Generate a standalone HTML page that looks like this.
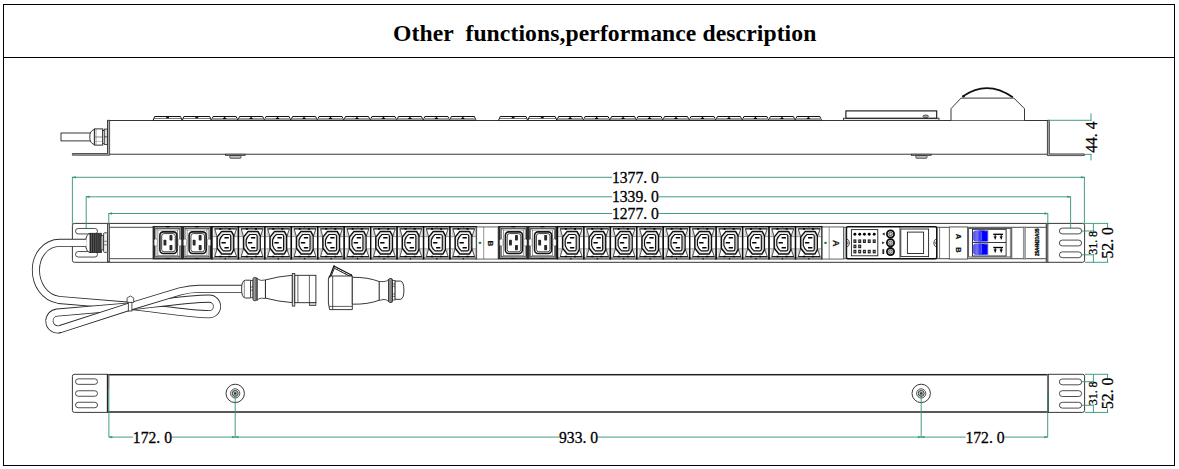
<!DOCTYPE html>
<html><head><meta charset="utf-8"><title>Other functions, performance description</title>
<style>
html,body{margin:0;padding:0;background:#fff;}
body{width:1179px;height:469px;overflow:hidden;position:relative;}
svg{position:absolute;left:0;top:0;}
.title{position:absolute;left:393px;top:19.4px;font:bold 23.65px "Liberation Serif",serif;letter-spacing:0.09px;color:#000;white-space:pre;line-height:28px;}
.d{font-family:"Liberation Serif",serif;fill:#000;stroke:#000;stroke-width:0.3px;white-space:pre;}
.s{font-family:"Liberation Sans",sans-serif;font-weight:bold;fill:#111;stroke:#111;stroke-width:0.25px;}
</style></head><body>
<svg width="1179" height="469" viewBox="0 0 1179 469">

<rect x="3.50" y="4.50" width="1171.00" height="461.00" fill="none" stroke="#000" stroke-width="1" rx="0" />
<line x1="3" y1="57.5" x2="1175" y2="57.5" stroke="#000" stroke-width="1.2" />
<path d="M153.0,120.5 L154.7,116.5 L180.5,116.5 L182.2,120.5 Z" fill="#fff" stroke="#111" stroke-width="1.0" />
<line x1="153.9" y1="118.5" x2="181.29999999999998" y2="118.5" stroke="#444" stroke-width="0.7" />
<rect x="166.20" y="117.00" width="2.80" height="1.30" fill="#111" stroke="#222" stroke-width="0" rx="0" />
<line x1="153.0" y1="120.5" x2="182.2" y2="120.5" stroke="#111" stroke-width="1.0" />
<path d="M182.2,120.5 L183.89999999999998,116.5 L209.70000000000002,116.5 L211.4,120.5 Z" fill="#fff" stroke="#111" stroke-width="1.0" />
<line x1="183.1" y1="118.5" x2="210.5" y2="118.5" stroke="#444" stroke-width="0.7" />
<rect x="195.40" y="117.00" width="2.80" height="1.30" fill="#111" stroke="#222" stroke-width="0" rx="0" />
<line x1="182.2" y1="120.5" x2="211.4" y2="120.5" stroke="#111" stroke-width="1.0" />
<path d="M211.4,120.5 L213.1,116.5 L236.17000000000002,116.5 L237.87,120.5 Z" fill="#fff" stroke="#111" stroke-width="1.0" />
<path d="M211.9,120.5 L212.5,118.0 L236.77,118.0 L237.37,120.5 Z" fill="#9a9a9a" stroke="#222" stroke-width="0" />
<path d="M222.635,119 L224.635,116.7 L226.635,119 Z" fill="#000" stroke="#222" stroke-width="0" />
<line x1="211.4" y1="120.5" x2="237.87" y2="120.5" stroke="#111" stroke-width="1.0" />
<path d="M237.87,120.5 L239.57,116.5 L262.64000000000004,116.5 L264.34000000000003,120.5 Z" fill="#fff" stroke="#111" stroke-width="1.0" />
<path d="M238.37,120.5 L238.97,118.0 L263.24,118.0 L263.84000000000003,120.5 Z" fill="#9a9a9a" stroke="#222" stroke-width="0" />
<path d="M249.10500000000002,119 L251.10500000000002,116.7 L253.10500000000002,119 Z" fill="#000" stroke="#222" stroke-width="0" />
<line x1="237.87" y1="120.5" x2="264.34000000000003" y2="120.5" stroke="#111" stroke-width="1.0" />
<path d="M264.34000000000003,120.5 L266.04,116.5 L289.11,116.5 L290.81,120.5 Z" fill="#fff" stroke="#111" stroke-width="1.0" />
<path d="M264.84000000000003,120.5 L265.44000000000005,118.0 L289.71,118.0 L290.31,120.5 Z" fill="#9a9a9a" stroke="#222" stroke-width="0" />
<path d="M275.57500000000005,119 L277.57500000000005,116.7 L279.57500000000005,119 Z" fill="#000" stroke="#222" stroke-width="0" />
<line x1="264.34000000000003" y1="120.5" x2="290.81" y2="120.5" stroke="#111" stroke-width="1.0" />
<path d="M290.81,120.5 L292.51,116.5 L315.58,116.5 L317.28,120.5 Z" fill="#fff" stroke="#111" stroke-width="1.0" />
<path d="M291.31,120.5 L291.91,118.0 L316.17999999999995,118.0 L316.78,120.5 Z" fill="#9a9a9a" stroke="#222" stroke-width="0" />
<path d="M302.04499999999996,119 L304.04499999999996,116.7 L306.04499999999996,119 Z" fill="#000" stroke="#222" stroke-width="0" />
<line x1="290.81" y1="120.5" x2="317.28" y2="120.5" stroke="#111" stroke-width="1.0" />
<path d="M317.28,120.5 L318.97999999999996,116.5 L342.05,116.5 L343.75,120.5 Z" fill="#fff" stroke="#111" stroke-width="1.0" />
<path d="M317.78,120.5 L318.38,118.0 L342.65,118.0 L343.25,120.5 Z" fill="#9a9a9a" stroke="#222" stroke-width="0" />
<path d="M328.515,119 L330.515,116.7 L332.515,119 Z" fill="#000" stroke="#222" stroke-width="0" />
<line x1="317.28" y1="120.5" x2="343.75" y2="120.5" stroke="#111" stroke-width="1.0" />
<path d="M343.75,120.5 L345.45,116.5 L368.52000000000004,116.5 L370.22,120.5 Z" fill="#fff" stroke="#111" stroke-width="1.0" />
<path d="M344.25,120.5 L344.85,118.0 L369.12,118.0 L369.72,120.5 Z" fill="#9a9a9a" stroke="#222" stroke-width="0" />
<path d="M354.985,119 L356.985,116.7 L358.985,119 Z" fill="#000" stroke="#222" stroke-width="0" />
<line x1="343.75" y1="120.5" x2="370.22" y2="120.5" stroke="#111" stroke-width="1.0" />
<path d="M370.22,120.5 L371.92,116.5 L394.99,116.5 L396.69,120.5 Z" fill="#fff" stroke="#111" stroke-width="1.0" />
<path d="M370.72,120.5 L371.32000000000005,118.0 L395.59,118.0 L396.19,120.5 Z" fill="#9a9a9a" stroke="#222" stroke-width="0" />
<path d="M381.45500000000004,119 L383.45500000000004,116.7 L385.45500000000004,119 Z" fill="#000" stroke="#222" stroke-width="0" />
<line x1="370.22" y1="120.5" x2="396.69" y2="120.5" stroke="#111" stroke-width="1.0" />
<path d="M396.69,120.5 L398.39,116.5 L421.46,116.5 L423.15999999999997,120.5 Z" fill="#fff" stroke="#111" stroke-width="1.0" />
<path d="M397.19,120.5 L397.79,118.0 L422.05999999999995,118.0 L422.65999999999997,120.5 Z" fill="#9a9a9a" stroke="#222" stroke-width="0" />
<path d="M407.92499999999995,119 L409.92499999999995,116.7 L411.92499999999995,119 Z" fill="#000" stroke="#222" stroke-width="0" />
<line x1="396.69" y1="120.5" x2="423.15999999999997" y2="120.5" stroke="#111" stroke-width="1.0" />
<path d="M423.15999999999997,120.5 L424.85999999999996,116.5 L447.93,116.5 L449.63,120.5 Z" fill="#fff" stroke="#111" stroke-width="1.0" />
<path d="M423.65999999999997,120.5 L424.26,118.0 L448.53,118.0 L449.13,120.5 Z" fill="#9a9a9a" stroke="#222" stroke-width="0" />
<path d="M434.395,119 L436.395,116.7 L438.395,119 Z" fill="#000" stroke="#222" stroke-width="0" />
<line x1="423.15999999999997" y1="120.5" x2="449.63" y2="120.5" stroke="#111" stroke-width="1.0" />
<path d="M449.63,120.5 L451.33,116.5 L474.40000000000003,116.5 L476.1,120.5 Z" fill="#fff" stroke="#111" stroke-width="1.0" />
<path d="M450.13,120.5 L450.73,118.0 L475.0,118.0 L475.6,120.5 Z" fill="#9a9a9a" stroke="#222" stroke-width="0" />
<path d="M460.865,119 L462.865,116.7 L464.865,119 Z" fill="#000" stroke="#222" stroke-width="0" />
<line x1="449.63" y1="120.5" x2="476.1" y2="120.5" stroke="#111" stroke-width="1.0" />
<path d="M498.5,120.5 L500.2,116.5 L526.0,116.5 L527.7,120.5 Z" fill="#fff" stroke="#111" stroke-width="1.0" />
<line x1="499.4" y1="118.5" x2="526.8000000000001" y2="118.5" stroke="#444" stroke-width="0.7" />
<rect x="511.70" y="117.00" width="2.80" height="1.30" fill="#111" stroke="#222" stroke-width="0" rx="0" />
<line x1="498.5" y1="120.5" x2="527.7" y2="120.5" stroke="#111" stroke-width="1.0" />
<path d="M527.7,120.5 L529.4000000000001,116.5 L555.1999999999999,116.5 L556.9,120.5 Z" fill="#fff" stroke="#111" stroke-width="1.0" />
<line x1="528.6" y1="118.5" x2="556.0" y2="118.5" stroke="#444" stroke-width="0.7" />
<rect x="540.90" y="117.00" width="2.80" height="1.30" fill="#111" stroke="#222" stroke-width="0" rx="0" />
<line x1="527.7" y1="120.5" x2="556.9" y2="120.5" stroke="#111" stroke-width="1.0" />
<path d="M556.9,120.5 L558.6,116.5 L581.67,116.5 L583.37,120.5 Z" fill="#fff" stroke="#111" stroke-width="1.0" />
<path d="M557.4,120.5 L558.0,118.0 L582.27,118.0 L582.87,120.5 Z" fill="#9a9a9a" stroke="#222" stroke-width="0" />
<path d="M568.135,119 L570.135,116.7 L572.135,119 Z" fill="#000" stroke="#222" stroke-width="0" />
<line x1="556.9" y1="120.5" x2="583.37" y2="120.5" stroke="#111" stroke-width="1.0" />
<path d="M583.37,120.5 L585.07,116.5 L608.1399999999999,116.5 L609.8399999999999,120.5 Z" fill="#fff" stroke="#111" stroke-width="1.0" />
<path d="M583.87,120.5 L584.47,118.0 L608.7399999999999,118.0 L609.3399999999999,120.5 Z" fill="#9a9a9a" stroke="#222" stroke-width="0" />
<path d="M594.605,119 L596.605,116.7 L598.605,119 Z" fill="#000" stroke="#222" stroke-width="0" />
<line x1="583.37" y1="120.5" x2="609.8399999999999" y2="120.5" stroke="#111" stroke-width="1.0" />
<path d="M609.8399999999999,120.5 L611.54,116.5 L634.6099999999999,116.5 L636.31,120.5 Z" fill="#fff" stroke="#111" stroke-width="1.0" />
<path d="M610.3399999999999,120.5 L610.9399999999999,118.0 L635.2099999999999,118.0 L635.81,120.5 Z" fill="#9a9a9a" stroke="#222" stroke-width="0" />
<path d="M621.0749999999999,119 L623.0749999999999,116.7 L625.0749999999999,119 Z" fill="#000" stroke="#222" stroke-width="0" />
<line x1="609.8399999999999" y1="120.5" x2="636.31" y2="120.5" stroke="#111" stroke-width="1.0" />
<path d="M636.31,120.5 L638.01,116.5 L661.0799999999999,116.5 L662.78,120.5 Z" fill="#fff" stroke="#111" stroke-width="1.0" />
<path d="M636.81,120.5 L637.41,118.0 L661.68,118.0 L662.28,120.5 Z" fill="#9a9a9a" stroke="#222" stroke-width="0" />
<path d="M647.545,119 L649.545,116.7 L651.545,119 Z" fill="#000" stroke="#222" stroke-width="0" />
<line x1="636.31" y1="120.5" x2="662.78" y2="120.5" stroke="#111" stroke-width="1.0" />
<path d="M662.78,120.5 L664.48,116.5 L687.55,116.5 L689.25,120.5 Z" fill="#fff" stroke="#111" stroke-width="1.0" />
<path d="M663.28,120.5 L663.88,118.0 L688.15,118.0 L688.75,120.5 Z" fill="#9a9a9a" stroke="#222" stroke-width="0" />
<path d="M674.015,119 L676.015,116.7 L678.015,119 Z" fill="#000" stroke="#222" stroke-width="0" />
<line x1="662.78" y1="120.5" x2="689.25" y2="120.5" stroke="#111" stroke-width="1.0" />
<path d="M689.25,120.5 L690.95,116.5 L714.02,116.5 L715.72,120.5 Z" fill="#fff" stroke="#111" stroke-width="1.0" />
<path d="M689.75,120.5 L690.35,118.0 L714.62,118.0 L715.22,120.5 Z" fill="#9a9a9a" stroke="#222" stroke-width="0" />
<path d="M700.485,119 L702.485,116.7 L704.485,119 Z" fill="#000" stroke="#222" stroke-width="0" />
<line x1="689.25" y1="120.5" x2="715.72" y2="120.5" stroke="#111" stroke-width="1.0" />
<path d="M715.72,120.5 L717.4200000000001,116.5 L740.4899999999999,116.5 L742.1899999999999,120.5 Z" fill="#fff" stroke="#111" stroke-width="1.0" />
<path d="M716.22,120.5 L716.82,118.0 L741.0899999999999,118.0 L741.6899999999999,120.5 Z" fill="#9a9a9a" stroke="#222" stroke-width="0" />
<path d="M726.9549999999999,119 L728.9549999999999,116.7 L730.9549999999999,119 Z" fill="#000" stroke="#222" stroke-width="0" />
<line x1="715.72" y1="120.5" x2="742.1899999999999" y2="120.5" stroke="#111" stroke-width="1.0" />
<path d="M742.1899999999999,120.5 L743.89,116.5 L766.9599999999999,116.5 L768.66,120.5 Z" fill="#fff" stroke="#111" stroke-width="1.0" />
<path d="M742.6899999999999,120.5 L743.29,118.0 L767.56,118.0 L768.16,120.5 Z" fill="#9a9a9a" stroke="#222" stroke-width="0" />
<path d="M753.425,119 L755.425,116.7 L757.425,119 Z" fill="#000" stroke="#222" stroke-width="0" />
<line x1="742.1899999999999" y1="120.5" x2="768.66" y2="120.5" stroke="#111" stroke-width="1.0" />
<path d="M768.66,120.5 L770.36,116.5 L793.43,116.5 L795.13,120.5 Z" fill="#fff" stroke="#111" stroke-width="1.0" />
<path d="M769.16,120.5 L769.76,118.0 L794.03,118.0 L794.63,120.5 Z" fill="#9a9a9a" stroke="#222" stroke-width="0" />
<path d="M779.895,119 L781.895,116.7 L783.895,119 Z" fill="#000" stroke="#222" stroke-width="0" />
<line x1="768.66" y1="120.5" x2="795.13" y2="120.5" stroke="#111" stroke-width="1.0" />
<path d="M795.13,120.5 L796.83,116.5 L819.8999999999999,116.5 L821.5999999999999,120.5 Z" fill="#fff" stroke="#111" stroke-width="1.0" />
<path d="M795.63,120.5 L796.23,118.0 L820.4999999999999,118.0 L821.0999999999999,120.5 Z" fill="#9a9a9a" stroke="#222" stroke-width="0" />
<path d="M806.365,119 L808.365,116.7 L810.365,119 Z" fill="#000" stroke="#222" stroke-width="0" />
<line x1="795.13" y1="120.5" x2="821.5999999999999" y2="120.5" stroke="#111" stroke-width="1.0" />
<rect x="107.60" y="120.50" width="940.40" height="33.70" fill="#fff" stroke="#222" stroke-width="0.9" rx="0" />
<path d="M107.5,120.3 L109.6,120.3 L109.6,153.4 L109.6,155.2 L72.4,155.2 L72.4,153.5 L107.5,153.5 Z" fill="#aaa" stroke="#333" stroke-width="0.8" />
<path d="M1049.4,120.3 L1047.4,120.3 L1047.4,153.6 L1047.4,155.6 L1084.4,155.6 L1084.4,153.9 L1049.4,153.9 Z" fill="#aaa" stroke="#333" stroke-width="0.8" />
<rect x="225.60" y="154.20" width="19.60" height="1.30" fill="#ccc" stroke="#222" stroke-width="0.7" rx="0" />
<rect x="229.80" y="155.50" width="11.20" height="2.80" fill="#bbb" stroke="#222" stroke-width="0.7" rx="0.8" />
<rect x="911.60" y="154.20" width="19.60" height="1.30" fill="#ccc" stroke="#222" stroke-width="0.7" rx="0" />
<rect x="915.80" y="155.50" width="11.20" height="2.80" fill="#bbb" stroke="#222" stroke-width="0.7" rx="0.8" />
<rect x="61.00" y="133.00" width="30.00" height="7.90" fill="#fff" stroke="#222" stroke-width="0.9" rx="0" />
<path d="M94.4,129.4 Q89.4,131 89.8,137 Q89.4,143 94.4,144.6 Z" fill="#fff" stroke="#222" stroke-width="0.9" />
<rect x="94.40" y="128.90" width="8.30" height="16.20" fill="#fff" stroke="#222" stroke-width="0.9" rx="0" />
<line x1="94.4" y1="137" x2="102.7" y2="137" stroke="#555" stroke-width="0.7" />
<line x1="94.4" y1="141.4" x2="102.7" y2="141.4" stroke="#888" stroke-width="0.5" />
<line x1="96" y1="128.9" x2="96" y2="145.1" stroke="#666" stroke-width="0.6" />
<rect x="102.70" y="130.60" width="1.60" height="12.80" fill="#fff" stroke="#222" stroke-width="0.7" rx="0" />
<rect x="104.20" y="129.10" width="3.30" height="15.30" fill="#ddd" stroke="#222" stroke-width="0.8" rx="0" />
<line x1="104.2" y1="136.8" x2="107.5" y2="136.8" stroke="#222" stroke-width="0.7" />
<rect x="843.40" y="118.20" width="95.60" height="2.10" fill="#fff" stroke="#222" stroke-width="0.8" rx="0" />
<rect x="845.90" y="110.90" width="90.80" height="7.30" fill="#fff" stroke="#111" stroke-width="1.1" rx="0" />
<ellipse cx="925.7" cy="116.3" rx="2.8" ry="1.3" fill="#aaa" stroke="#222" stroke-width="0.7"/>
<path d="M951,120.3 L951,108.7 L961,98.1 L1013.9,98.1 L1024.5,108.7 L1024.5,120.3" fill="#fff" stroke="#222" stroke-width="0.9" />
<path d="M963.2,96.1 Q987.5,79.5 1012.8,97.3" fill="none" stroke="#111" stroke-width="1.7" />
<circle cx="963.4" cy="96.3" r="1.3" fill="#111" stroke="#222" stroke-width="0"/>
<line x1="1048.6" y1="120.3" x2="1091.6" y2="120.3" stroke="#2f927c" stroke-width="0.9" />
<line x1="1084.4" y1="154.4" x2="1091.6" y2="154.4" stroke="#2f927c" stroke-width="0.9" />
<line x1="1091" y1="113.4" x2="1091" y2="120.3" stroke="#2f927c" stroke-width="0.9" />
<line x1="1091" y1="154.4" x2="1091" y2="160.4" stroke="#2f927c" stroke-width="0.9" />
<path d="M107.6,223.4 L74.4,223.4 Q72.4,223.4 72.4,225.4 L72.4,260.3 Q72.4,262.3 74.4,262.3 L107.6,262.3" fill="#fff" stroke="#222" stroke-width="0.9" />
<rect x="75.50" y="228.45" width="22.00" height="5.50" fill="#fff" stroke="#222" stroke-width="0.8" rx="2.75" />
<rect x="75.50" y="240.25" width="22.00" height="5.50" fill="#fff" stroke="#222" stroke-width="0.8" rx="2.75" />
<rect x="75.50" y="251.55" width="22.00" height="5.50" fill="#fff" stroke="#222" stroke-width="0.8" rx="2.75" />
<path d="M1048,223.4 L1082.6,223.4 Q1084.6,223.4 1084.6,225.4 L1084.6,260.3 Q1084.6,262.3 1082.6,262.3 L1048,262.3" fill="#fff" stroke="#222" stroke-width="0.9" />
<rect x="1059.40" y="228.10" width="22.20" height="5.80" fill="#fff" stroke="#222" stroke-width="0.8" rx="2.9" />
<rect x="1059.40" y="240.10" width="22.20" height="5.80" fill="#fff" stroke="#222" stroke-width="0.8" rx="2.9" />
<rect x="1059.40" y="251.90" width="22.20" height="5.80" fill="#fff" stroke="#222" stroke-width="0.8" rx="2.9" />
<rect x="107.60" y="223.40" width="940.20" height="38.90" fill="#fff" stroke="#333" stroke-width="1" rx="0" />
<line x1="109.4" y1="227.3" x2="1046" y2="227.3" stroke="#4a4a4a" stroke-width="1.0" />
<line x1="109.4" y1="258.7" x2="1046" y2="258.7" stroke="#4a4a4a" stroke-width="1.0" />
<rect x="107.60" y="223.40" width="1.90" height="38.90" fill="#aaa" stroke="#444" stroke-width="0.8" rx="0" />
<line x1="1046.4" y1="223.4" x2="1046.4" y2="262.3" stroke="#555" stroke-width="1.4" />
<line x1="72.4" y1="177.3" x2="1084.4" y2="177.3" stroke="#2f927c" stroke-width="0.9" />
<line x1="72.4" y1="176.9" x2="72.4" y2="224" stroke="#2f927c" stroke-width="0.9" />
<line x1="1084.4" y1="176.9" x2="1084.4" y2="224" stroke="#2f927c" stroke-width="0.9" />
<path d="M72.4,177.3 L75.60000000000001,176.4 L75.60000000000001,178.20000000000002 Z" fill="#2f927c" stroke="#2f927c" stroke-width="0.3" />
<path d="M1084.4,177.3 L1081.2,176.4 L1081.2,178.20000000000002 Z" fill="#2f927c" stroke="#2f927c" stroke-width="0.3" />
<line x1="86.2" y1="196.8" x2="1070.6" y2="196.8" stroke="#2f927c" stroke-width="0.9" />
<line x1="86.2" y1="196.4" x2="86.2" y2="228.4" stroke="#2f927c" stroke-width="0.9" />
<line x1="1070.6" y1="196.4" x2="1070.6" y2="228.4" stroke="#2f927c" stroke-width="0.9" />
<path d="M86.2,196.8 L89.4,195.9 L89.4,197.70000000000002 Z" fill="#2f927c" stroke="#2f927c" stroke-width="0.3" />
<path d="M1070.6,196.8 L1067.3999999999999,195.9 L1067.3999999999999,197.70000000000002 Z" fill="#2f927c" stroke="#2f927c" stroke-width="0.3" />
<line x1="108.8" y1="213.5" x2="1047.8" y2="213.5" stroke="#2f927c" stroke-width="0.9" />
<line x1="108.8" y1="213.1" x2="108.8" y2="225" stroke="#2f927c" stroke-width="0.9" />
<line x1="1047.8" y1="213.1" x2="1047.8" y2="225" stroke="#2f927c" stroke-width="0.9" />
<path d="M108.8,213.5 L112.0,212.6 L112.0,214.4 Z" fill="#2f927c" stroke="#2f927c" stroke-width="0.3" />
<path d="M1047.8,213.5 L1044.6,212.6 L1044.6,214.4 Z" fill="#2f927c" stroke="#2f927c" stroke-width="0.3" />
<rect x="612.20" y="170.37" width="46.40" height="13.20" fill="#fff" stroke="#222" stroke-width="0" rx="0" />
<text transform="translate(635.4,182.91) scale(0.95,1)" font-size="16.5" text-anchor="middle" class="d">1377. 0</text>
<rect x="612.20" y="189.67" width="46.40" height="13.20" fill="#fff" stroke="#222" stroke-width="0" rx="0" />
<text transform="translate(635.4,202.21) scale(0.95,1)" font-size="16.5" text-anchor="middle" class="d">1339. 0</text>
<rect x="612.20" y="206.67" width="46.40" height="13.20" fill="#fff" stroke="#222" stroke-width="0" rx="0" />
<text transform="translate(635.4,219.21) scale(0.95,1)" font-size="16.5" text-anchor="middle" class="d">1277. 0</text>
<g transform="translate(153.0,226)">
  <rect x="-0.4" y="0" width="30.4" height="33.4" fill="#2b2b2b"/>
  <rect x="2.1" y="1.5" width="25.4" height="30.4" fill="#fff"/>
  <rect x="1.8" y="1.5" width="26" height="1.5" fill="#999"/>
  <rect x="1.8" y="30.4" width="26" height="1.5" fill="#999"/>
  <rect x="12.6" y="0.3" width="4.4" height="0.9" rx="0.4" fill="#000"/>
  <rect x="12.6" y="32.2" width="4.4" height="0.9" rx="0.4" fill="#000"/>
  <rect x="2.9" y="2.6" width="23.8" height="28.2" fill="none" stroke="#444" stroke-width="0.7"/>
  <rect x="4.9" y="4" width="19.8" height="25.4" fill="none" stroke="#555" stroke-width="0.6"/>
  <path d="M2.9,2.6 L4.9,4 M26.7,2.6 L24.7,4 M2.9,30.8 L4.9,29.4 M26.7,30.8 L24.7,29.4" stroke="#444" stroke-width="0.6"/>
  <rect x="1.2" y="12.9" width="3.2" height="7" rx="1.5" fill="#fff" stroke="#444" stroke-width="0.4"/>
  <rect x="25.2" y="12.9" width="3.2" height="7" rx="1.5" fill="#fff" stroke="#444" stroke-width="0.4"/>
  <rect x="6.9" y="5.9" width="17" height="21.6" rx="3.4" fill="#fff" stroke="#161616" stroke-width="1.6"/>
  <rect x="8.7" y="7.6" width="13.6" height="18.2" rx="2.4" fill="#fff" stroke="#2a2a2a" stroke-width="0.9"/>
  <rect x="10.5" y="13.8" width="2.9" height="5.7" rx="0.7" fill="#2a2a2a"/>
  <rect x="16.5" y="9.1" width="2.9" height="5.3" rx="0.7" fill="#2a2a2a"/>
  <rect x="16.5" y="19" width="2.9" height="5.3" rx="0.7" fill="#2a2a2a"/>
</g>
<g transform="translate(182.2,226)">
  <rect x="-0.4" y="0" width="30.4" height="33.4" fill="#2b2b2b"/>
  <rect x="2.1" y="1.5" width="25.4" height="30.4" fill="#fff"/>
  <rect x="1.8" y="1.5" width="26" height="1.5" fill="#999"/>
  <rect x="1.8" y="30.4" width="26" height="1.5" fill="#999"/>
  <rect x="12.6" y="0.3" width="4.4" height="0.9" rx="0.4" fill="#000"/>
  <rect x="12.6" y="32.2" width="4.4" height="0.9" rx="0.4" fill="#000"/>
  <rect x="2.9" y="2.6" width="23.8" height="28.2" fill="none" stroke="#444" stroke-width="0.7"/>
  <rect x="4.9" y="4" width="19.8" height="25.4" fill="none" stroke="#555" stroke-width="0.6"/>
  <path d="M2.9,2.6 L4.9,4 M26.7,2.6 L24.7,4 M2.9,30.8 L4.9,29.4 M26.7,30.8 L24.7,29.4" stroke="#444" stroke-width="0.6"/>
  <rect x="1.2" y="12.9" width="3.2" height="7" rx="1.5" fill="#fff" stroke="#444" stroke-width="0.4"/>
  <rect x="25.2" y="12.9" width="3.2" height="7" rx="1.5" fill="#fff" stroke="#444" stroke-width="0.4"/>
  <rect x="6.9" y="5.9" width="17" height="21.6" rx="3.4" fill="#fff" stroke="#161616" stroke-width="1.6"/>
  <rect x="8.7" y="7.6" width="13.6" height="18.2" rx="2.4" fill="#fff" stroke="#2a2a2a" stroke-width="0.9"/>
  <rect x="10.5" y="13.8" width="2.9" height="5.7" rx="0.7" fill="#2a2a2a"/>
  <rect x="16.5" y="9.1" width="2.9" height="5.3" rx="0.7" fill="#2a2a2a"/>
  <rect x="16.5" y="19" width="2.9" height="5.3" rx="0.7" fill="#2a2a2a"/>
</g>
<g transform="translate(212.0,226)">
  <rect x="0" y="0" width="26.45" height="33.4" fill="#fff"/>
  <rect x="0" y="0" width="26.45" height="1" fill="#1c1c1c"/>
  <rect x="0" y="32.4" width="26.45" height="1" fill="#1c1c1c"/>
  <rect x="0" y="1" width="26.45" height="1.4" fill="#909090"/>
  <rect x="0" y="31" width="26.45" height="1.4" fill="#909090"/>
  <path d="M0.7,2.3 L2.8,2.3 L5.1,10.5 L0.7,10.5 Z M0.7,31.1 L2.8,31.1 L5.1,22.9 L0.7,22.9 Z M25.8,2.3 L24.6,2.3 L21.7,10.5 L25.8,10.5 Z M25.8,31.1 L24.6,31.1 L21.7,22.9 L25.8,22.9 Z" fill="#cfcfcf"/>
  <path d="M1.5,2.3 V10.5 M1.5,22.9 V31.1 M24.9,2.3 V10.5 M24.9,22.9 V31.1" stroke="#fff" stroke-width="0.8" fill="none"/>
  <path d="M2.8,2.9 L5.1,10.8 M2.8,30.5 L5.1,22.6 M24.6,2.9 L21.7,10.8 M24.6,30.5 L21.7,22.6" stroke="#333" stroke-width="0.8" fill="none"/>
  <path d="M2.6,2.9 H24.8 M2.6,30.5 H24.8" stroke="#1c1c1c" stroke-width="1.2" fill="none"/>
  <path d="M7.4,2.9 h2 M16.5,2.9 h2 M7.4,30.5 h2 M16.5,30.5 h2" stroke="#000" stroke-width="1.5" fill="none"/>
  <path d="M12.2,0.2 L14.4,0.2 L13.3,1.6 Z M12.2,33.2 L14.4,33.2 L13.3,31.8 Z" fill="#000"/>
  <path d="M0.6,10.6 H5 M0.6,22.8 H5 M21.8,10.6 H25.9 M21.8,22.8 H25.9" stroke="#666" stroke-width="0.6" fill="none"/>
  <path d="M5.1,11.1 L9.7,5.4 L19.4,5.4 L21.7,9.6 L21.7,23.8 L19.4,28 L9.7,28 L5.1,22.3 Z" fill="#ececec" stroke="#101010" stroke-width="1.5" stroke-linejoin="round"/>
  <path d="M19.3,9 L21.1,10.4 L21.1,23 L19.3,24.4 Z" fill="#c2c2c2"/>
  <path d="M11.4,8.5 L17,8.5 Q18.7,8.5 18.7,10.2 L18.7,23.2 Q18.7,24.9 17,24.9 L11.4,24.9 Q8.6,22.6 7.7,19.4 L7.7,14 Q8.6,10.8 11.4,8.5 Z" fill="#fff" stroke="#141414" stroke-width="1.2"/>
  <rect x="12.4" y="11" width="4.5" height="1.5" rx="0.5" fill="#000"/>
  <rect x="9.4" y="15.9" width="4.5" height="1.5" rx="0.5" fill="#000"/>
  <rect x="12.4" y="20.9" width="4.5" height="1.5" rx="0.5" fill="#000"/>
  <rect x="25.75" y="0" width="1.4" height="33.4" fill="#0c0c0c"/>
  <rect x="-0.7" y="0" width="1.4" height="33.4" fill="#0c0c0c"/>
</g>
<g transform="translate(238.45,226)">
  <rect x="0" y="0" width="26.45" height="33.4" fill="#fff"/>
  <rect x="0" y="0" width="26.45" height="1" fill="#1c1c1c"/>
  <rect x="0" y="32.4" width="26.45" height="1" fill="#1c1c1c"/>
  <rect x="0" y="1" width="26.45" height="1.4" fill="#909090"/>
  <rect x="0" y="31" width="26.45" height="1.4" fill="#909090"/>
  <path d="M0.7,2.3 L2.8,2.3 L5.1,10.5 L0.7,10.5 Z M0.7,31.1 L2.8,31.1 L5.1,22.9 L0.7,22.9 Z M25.8,2.3 L24.6,2.3 L21.7,10.5 L25.8,10.5 Z M25.8,31.1 L24.6,31.1 L21.7,22.9 L25.8,22.9 Z" fill="#cfcfcf"/>
  <path d="M1.5,2.3 V10.5 M1.5,22.9 V31.1 M24.9,2.3 V10.5 M24.9,22.9 V31.1" stroke="#fff" stroke-width="0.8" fill="none"/>
  <path d="M2.8,2.9 L5.1,10.8 M2.8,30.5 L5.1,22.6 M24.6,2.9 L21.7,10.8 M24.6,30.5 L21.7,22.6" stroke="#333" stroke-width="0.8" fill="none"/>
  <path d="M2.6,2.9 H24.8 M2.6,30.5 H24.8" stroke="#1c1c1c" stroke-width="1.2" fill="none"/>
  <path d="M7.4,2.9 h2 M16.5,2.9 h2 M7.4,30.5 h2 M16.5,30.5 h2" stroke="#000" stroke-width="1.5" fill="none"/>
  <path d="M12.2,0.2 L14.4,0.2 L13.3,1.6 Z M12.2,33.2 L14.4,33.2 L13.3,31.8 Z" fill="#000"/>
  <path d="M0.6,10.6 H5 M0.6,22.8 H5 M21.8,10.6 H25.9 M21.8,22.8 H25.9" stroke="#666" stroke-width="0.6" fill="none"/>
  <path d="M5.1,11.1 L9.7,5.4 L19.4,5.4 L21.7,9.6 L21.7,23.8 L19.4,28 L9.7,28 L5.1,22.3 Z" fill="#ececec" stroke="#101010" stroke-width="1.5" stroke-linejoin="round"/>
  <path d="M19.3,9 L21.1,10.4 L21.1,23 L19.3,24.4 Z" fill="#c2c2c2"/>
  <path d="M11.4,8.5 L17,8.5 Q18.7,8.5 18.7,10.2 L18.7,23.2 Q18.7,24.9 17,24.9 L11.4,24.9 Q8.6,22.6 7.7,19.4 L7.7,14 Q8.6,10.8 11.4,8.5 Z" fill="#fff" stroke="#141414" stroke-width="1.2"/>
  <rect x="12.4" y="11" width="4.5" height="1.5" rx="0.5" fill="#000"/>
  <rect x="9.4" y="15.9" width="4.5" height="1.5" rx="0.5" fill="#000"/>
  <rect x="12.4" y="20.9" width="4.5" height="1.5" rx="0.5" fill="#000"/>
  <rect x="25.75" y="0" width="1.4" height="33.4" fill="#0c0c0c"/>
  <rect x="-0.7" y="0" width="1.4" height="33.4" fill="#0c0c0c"/>
</g>
<g transform="translate(264.9,226)">
  <rect x="0" y="0" width="26.45" height="33.4" fill="#fff"/>
  <rect x="0" y="0" width="26.45" height="1" fill="#1c1c1c"/>
  <rect x="0" y="32.4" width="26.45" height="1" fill="#1c1c1c"/>
  <rect x="0" y="1" width="26.45" height="1.4" fill="#909090"/>
  <rect x="0" y="31" width="26.45" height="1.4" fill="#909090"/>
  <path d="M0.7,2.3 L2.8,2.3 L5.1,10.5 L0.7,10.5 Z M0.7,31.1 L2.8,31.1 L5.1,22.9 L0.7,22.9 Z M25.8,2.3 L24.6,2.3 L21.7,10.5 L25.8,10.5 Z M25.8,31.1 L24.6,31.1 L21.7,22.9 L25.8,22.9 Z" fill="#cfcfcf"/>
  <path d="M1.5,2.3 V10.5 M1.5,22.9 V31.1 M24.9,2.3 V10.5 M24.9,22.9 V31.1" stroke="#fff" stroke-width="0.8" fill="none"/>
  <path d="M2.8,2.9 L5.1,10.8 M2.8,30.5 L5.1,22.6 M24.6,2.9 L21.7,10.8 M24.6,30.5 L21.7,22.6" stroke="#333" stroke-width="0.8" fill="none"/>
  <path d="M2.6,2.9 H24.8 M2.6,30.5 H24.8" stroke="#1c1c1c" stroke-width="1.2" fill="none"/>
  <path d="M7.4,2.9 h2 M16.5,2.9 h2 M7.4,30.5 h2 M16.5,30.5 h2" stroke="#000" stroke-width="1.5" fill="none"/>
  <path d="M12.2,0.2 L14.4,0.2 L13.3,1.6 Z M12.2,33.2 L14.4,33.2 L13.3,31.8 Z" fill="#000"/>
  <path d="M0.6,10.6 H5 M0.6,22.8 H5 M21.8,10.6 H25.9 M21.8,22.8 H25.9" stroke="#666" stroke-width="0.6" fill="none"/>
  <path d="M5.1,11.1 L9.7,5.4 L19.4,5.4 L21.7,9.6 L21.7,23.8 L19.4,28 L9.7,28 L5.1,22.3 Z" fill="#ececec" stroke="#101010" stroke-width="1.5" stroke-linejoin="round"/>
  <path d="M19.3,9 L21.1,10.4 L21.1,23 L19.3,24.4 Z" fill="#c2c2c2"/>
  <path d="M11.4,8.5 L17,8.5 Q18.7,8.5 18.7,10.2 L18.7,23.2 Q18.7,24.9 17,24.9 L11.4,24.9 Q8.6,22.6 7.7,19.4 L7.7,14 Q8.6,10.8 11.4,8.5 Z" fill="#fff" stroke="#141414" stroke-width="1.2"/>
  <rect x="12.4" y="11" width="4.5" height="1.5" rx="0.5" fill="#000"/>
  <rect x="9.4" y="15.9" width="4.5" height="1.5" rx="0.5" fill="#000"/>
  <rect x="12.4" y="20.9" width="4.5" height="1.5" rx="0.5" fill="#000"/>
  <rect x="25.75" y="0" width="1.4" height="33.4" fill="#0c0c0c"/>
  <rect x="-0.7" y="0" width="1.4" height="33.4" fill="#0c0c0c"/>
</g>
<g transform="translate(291.35,226)">
  <rect x="0" y="0" width="26.45" height="33.4" fill="#fff"/>
  <rect x="0" y="0" width="26.45" height="1" fill="#1c1c1c"/>
  <rect x="0" y="32.4" width="26.45" height="1" fill="#1c1c1c"/>
  <rect x="0" y="1" width="26.45" height="1.4" fill="#909090"/>
  <rect x="0" y="31" width="26.45" height="1.4" fill="#909090"/>
  <path d="M0.7,2.3 L2.8,2.3 L5.1,10.5 L0.7,10.5 Z M0.7,31.1 L2.8,31.1 L5.1,22.9 L0.7,22.9 Z M25.8,2.3 L24.6,2.3 L21.7,10.5 L25.8,10.5 Z M25.8,31.1 L24.6,31.1 L21.7,22.9 L25.8,22.9 Z" fill="#cfcfcf"/>
  <path d="M1.5,2.3 V10.5 M1.5,22.9 V31.1 M24.9,2.3 V10.5 M24.9,22.9 V31.1" stroke="#fff" stroke-width="0.8" fill="none"/>
  <path d="M2.8,2.9 L5.1,10.8 M2.8,30.5 L5.1,22.6 M24.6,2.9 L21.7,10.8 M24.6,30.5 L21.7,22.6" stroke="#333" stroke-width="0.8" fill="none"/>
  <path d="M2.6,2.9 H24.8 M2.6,30.5 H24.8" stroke="#1c1c1c" stroke-width="1.2" fill="none"/>
  <path d="M7.4,2.9 h2 M16.5,2.9 h2 M7.4,30.5 h2 M16.5,30.5 h2" stroke="#000" stroke-width="1.5" fill="none"/>
  <path d="M12.2,0.2 L14.4,0.2 L13.3,1.6 Z M12.2,33.2 L14.4,33.2 L13.3,31.8 Z" fill="#000"/>
  <path d="M0.6,10.6 H5 M0.6,22.8 H5 M21.8,10.6 H25.9 M21.8,22.8 H25.9" stroke="#666" stroke-width="0.6" fill="none"/>
  <path d="M5.1,11.1 L9.7,5.4 L19.4,5.4 L21.7,9.6 L21.7,23.8 L19.4,28 L9.7,28 L5.1,22.3 Z" fill="#ececec" stroke="#101010" stroke-width="1.5" stroke-linejoin="round"/>
  <path d="M19.3,9 L21.1,10.4 L21.1,23 L19.3,24.4 Z" fill="#c2c2c2"/>
  <path d="M11.4,8.5 L17,8.5 Q18.7,8.5 18.7,10.2 L18.7,23.2 Q18.7,24.9 17,24.9 L11.4,24.9 Q8.6,22.6 7.7,19.4 L7.7,14 Q8.6,10.8 11.4,8.5 Z" fill="#fff" stroke="#141414" stroke-width="1.2"/>
  <rect x="12.4" y="11" width="4.5" height="1.5" rx="0.5" fill="#000"/>
  <rect x="9.4" y="15.9" width="4.5" height="1.5" rx="0.5" fill="#000"/>
  <rect x="12.4" y="20.9" width="4.5" height="1.5" rx="0.5" fill="#000"/>
  <rect x="25.75" y="0" width="1.4" height="33.4" fill="#0c0c0c"/>
  <rect x="-0.7" y="0" width="1.4" height="33.4" fill="#0c0c0c"/>
</g>
<g transform="translate(317.8,226)">
  <rect x="0" y="0" width="26.45" height="33.4" fill="#fff"/>
  <rect x="0" y="0" width="26.45" height="1" fill="#1c1c1c"/>
  <rect x="0" y="32.4" width="26.45" height="1" fill="#1c1c1c"/>
  <rect x="0" y="1" width="26.45" height="1.4" fill="#909090"/>
  <rect x="0" y="31" width="26.45" height="1.4" fill="#909090"/>
  <path d="M0.7,2.3 L2.8,2.3 L5.1,10.5 L0.7,10.5 Z M0.7,31.1 L2.8,31.1 L5.1,22.9 L0.7,22.9 Z M25.8,2.3 L24.6,2.3 L21.7,10.5 L25.8,10.5 Z M25.8,31.1 L24.6,31.1 L21.7,22.9 L25.8,22.9 Z" fill="#cfcfcf"/>
  <path d="M1.5,2.3 V10.5 M1.5,22.9 V31.1 M24.9,2.3 V10.5 M24.9,22.9 V31.1" stroke="#fff" stroke-width="0.8" fill="none"/>
  <path d="M2.8,2.9 L5.1,10.8 M2.8,30.5 L5.1,22.6 M24.6,2.9 L21.7,10.8 M24.6,30.5 L21.7,22.6" stroke="#333" stroke-width="0.8" fill="none"/>
  <path d="M2.6,2.9 H24.8 M2.6,30.5 H24.8" stroke="#1c1c1c" stroke-width="1.2" fill="none"/>
  <path d="M7.4,2.9 h2 M16.5,2.9 h2 M7.4,30.5 h2 M16.5,30.5 h2" stroke="#000" stroke-width="1.5" fill="none"/>
  <path d="M12.2,0.2 L14.4,0.2 L13.3,1.6 Z M12.2,33.2 L14.4,33.2 L13.3,31.8 Z" fill="#000"/>
  <path d="M0.6,10.6 H5 M0.6,22.8 H5 M21.8,10.6 H25.9 M21.8,22.8 H25.9" stroke="#666" stroke-width="0.6" fill="none"/>
  <path d="M5.1,11.1 L9.7,5.4 L19.4,5.4 L21.7,9.6 L21.7,23.8 L19.4,28 L9.7,28 L5.1,22.3 Z" fill="#ececec" stroke="#101010" stroke-width="1.5" stroke-linejoin="round"/>
  <path d="M19.3,9 L21.1,10.4 L21.1,23 L19.3,24.4 Z" fill="#c2c2c2"/>
  <path d="M11.4,8.5 L17,8.5 Q18.7,8.5 18.7,10.2 L18.7,23.2 Q18.7,24.9 17,24.9 L11.4,24.9 Q8.6,22.6 7.7,19.4 L7.7,14 Q8.6,10.8 11.4,8.5 Z" fill="#fff" stroke="#141414" stroke-width="1.2"/>
  <rect x="12.4" y="11" width="4.5" height="1.5" rx="0.5" fill="#000"/>
  <rect x="9.4" y="15.9" width="4.5" height="1.5" rx="0.5" fill="#000"/>
  <rect x="12.4" y="20.9" width="4.5" height="1.5" rx="0.5" fill="#000"/>
  <rect x="25.75" y="0" width="1.4" height="33.4" fill="#0c0c0c"/>
  <rect x="-0.7" y="0" width="1.4" height="33.4" fill="#0c0c0c"/>
</g>
<g transform="translate(344.25,226)">
  <rect x="0" y="0" width="26.45" height="33.4" fill="#fff"/>
  <rect x="0" y="0" width="26.45" height="1" fill="#1c1c1c"/>
  <rect x="0" y="32.4" width="26.45" height="1" fill="#1c1c1c"/>
  <rect x="0" y="1" width="26.45" height="1.4" fill="#909090"/>
  <rect x="0" y="31" width="26.45" height="1.4" fill="#909090"/>
  <path d="M0.7,2.3 L2.8,2.3 L5.1,10.5 L0.7,10.5 Z M0.7,31.1 L2.8,31.1 L5.1,22.9 L0.7,22.9 Z M25.8,2.3 L24.6,2.3 L21.7,10.5 L25.8,10.5 Z M25.8,31.1 L24.6,31.1 L21.7,22.9 L25.8,22.9 Z" fill="#cfcfcf"/>
  <path d="M1.5,2.3 V10.5 M1.5,22.9 V31.1 M24.9,2.3 V10.5 M24.9,22.9 V31.1" stroke="#fff" stroke-width="0.8" fill="none"/>
  <path d="M2.8,2.9 L5.1,10.8 M2.8,30.5 L5.1,22.6 M24.6,2.9 L21.7,10.8 M24.6,30.5 L21.7,22.6" stroke="#333" stroke-width="0.8" fill="none"/>
  <path d="M2.6,2.9 H24.8 M2.6,30.5 H24.8" stroke="#1c1c1c" stroke-width="1.2" fill="none"/>
  <path d="M7.4,2.9 h2 M16.5,2.9 h2 M7.4,30.5 h2 M16.5,30.5 h2" stroke="#000" stroke-width="1.5" fill="none"/>
  <path d="M12.2,0.2 L14.4,0.2 L13.3,1.6 Z M12.2,33.2 L14.4,33.2 L13.3,31.8 Z" fill="#000"/>
  <path d="M0.6,10.6 H5 M0.6,22.8 H5 M21.8,10.6 H25.9 M21.8,22.8 H25.9" stroke="#666" stroke-width="0.6" fill="none"/>
  <path d="M5.1,11.1 L9.7,5.4 L19.4,5.4 L21.7,9.6 L21.7,23.8 L19.4,28 L9.7,28 L5.1,22.3 Z" fill="#ececec" stroke="#101010" stroke-width="1.5" stroke-linejoin="round"/>
  <path d="M19.3,9 L21.1,10.4 L21.1,23 L19.3,24.4 Z" fill="#c2c2c2"/>
  <path d="M11.4,8.5 L17,8.5 Q18.7,8.5 18.7,10.2 L18.7,23.2 Q18.7,24.9 17,24.9 L11.4,24.9 Q8.6,22.6 7.7,19.4 L7.7,14 Q8.6,10.8 11.4,8.5 Z" fill="#fff" stroke="#141414" stroke-width="1.2"/>
  <rect x="12.4" y="11" width="4.5" height="1.5" rx="0.5" fill="#000"/>
  <rect x="9.4" y="15.9" width="4.5" height="1.5" rx="0.5" fill="#000"/>
  <rect x="12.4" y="20.9" width="4.5" height="1.5" rx="0.5" fill="#000"/>
  <rect x="25.75" y="0" width="1.4" height="33.4" fill="#0c0c0c"/>
  <rect x="-0.7" y="0" width="1.4" height="33.4" fill="#0c0c0c"/>
</g>
<g transform="translate(370.7,226)">
  <rect x="0" y="0" width="26.45" height="33.4" fill="#fff"/>
  <rect x="0" y="0" width="26.45" height="1" fill="#1c1c1c"/>
  <rect x="0" y="32.4" width="26.45" height="1" fill="#1c1c1c"/>
  <rect x="0" y="1" width="26.45" height="1.4" fill="#909090"/>
  <rect x="0" y="31" width="26.45" height="1.4" fill="#909090"/>
  <path d="M0.7,2.3 L2.8,2.3 L5.1,10.5 L0.7,10.5 Z M0.7,31.1 L2.8,31.1 L5.1,22.9 L0.7,22.9 Z M25.8,2.3 L24.6,2.3 L21.7,10.5 L25.8,10.5 Z M25.8,31.1 L24.6,31.1 L21.7,22.9 L25.8,22.9 Z" fill="#cfcfcf"/>
  <path d="M1.5,2.3 V10.5 M1.5,22.9 V31.1 M24.9,2.3 V10.5 M24.9,22.9 V31.1" stroke="#fff" stroke-width="0.8" fill="none"/>
  <path d="M2.8,2.9 L5.1,10.8 M2.8,30.5 L5.1,22.6 M24.6,2.9 L21.7,10.8 M24.6,30.5 L21.7,22.6" stroke="#333" stroke-width="0.8" fill="none"/>
  <path d="M2.6,2.9 H24.8 M2.6,30.5 H24.8" stroke="#1c1c1c" stroke-width="1.2" fill="none"/>
  <path d="M7.4,2.9 h2 M16.5,2.9 h2 M7.4,30.5 h2 M16.5,30.5 h2" stroke="#000" stroke-width="1.5" fill="none"/>
  <path d="M12.2,0.2 L14.4,0.2 L13.3,1.6 Z M12.2,33.2 L14.4,33.2 L13.3,31.8 Z" fill="#000"/>
  <path d="M0.6,10.6 H5 M0.6,22.8 H5 M21.8,10.6 H25.9 M21.8,22.8 H25.9" stroke="#666" stroke-width="0.6" fill="none"/>
  <path d="M5.1,11.1 L9.7,5.4 L19.4,5.4 L21.7,9.6 L21.7,23.8 L19.4,28 L9.7,28 L5.1,22.3 Z" fill="#ececec" stroke="#101010" stroke-width="1.5" stroke-linejoin="round"/>
  <path d="M19.3,9 L21.1,10.4 L21.1,23 L19.3,24.4 Z" fill="#c2c2c2"/>
  <path d="M11.4,8.5 L17,8.5 Q18.7,8.5 18.7,10.2 L18.7,23.2 Q18.7,24.9 17,24.9 L11.4,24.9 Q8.6,22.6 7.7,19.4 L7.7,14 Q8.6,10.8 11.4,8.5 Z" fill="#fff" stroke="#141414" stroke-width="1.2"/>
  <rect x="12.4" y="11" width="4.5" height="1.5" rx="0.5" fill="#000"/>
  <rect x="9.4" y="15.9" width="4.5" height="1.5" rx="0.5" fill="#000"/>
  <rect x="12.4" y="20.9" width="4.5" height="1.5" rx="0.5" fill="#000"/>
  <rect x="25.75" y="0" width="1.4" height="33.4" fill="#0c0c0c"/>
  <rect x="-0.7" y="0" width="1.4" height="33.4" fill="#0c0c0c"/>
</g>
<g transform="translate(397.15,226)">
  <rect x="0" y="0" width="26.45" height="33.4" fill="#fff"/>
  <rect x="0" y="0" width="26.45" height="1" fill="#1c1c1c"/>
  <rect x="0" y="32.4" width="26.45" height="1" fill="#1c1c1c"/>
  <rect x="0" y="1" width="26.45" height="1.4" fill="#909090"/>
  <rect x="0" y="31" width="26.45" height="1.4" fill="#909090"/>
  <path d="M0.7,2.3 L2.8,2.3 L5.1,10.5 L0.7,10.5 Z M0.7,31.1 L2.8,31.1 L5.1,22.9 L0.7,22.9 Z M25.8,2.3 L24.6,2.3 L21.7,10.5 L25.8,10.5 Z M25.8,31.1 L24.6,31.1 L21.7,22.9 L25.8,22.9 Z" fill="#cfcfcf"/>
  <path d="M1.5,2.3 V10.5 M1.5,22.9 V31.1 M24.9,2.3 V10.5 M24.9,22.9 V31.1" stroke="#fff" stroke-width="0.8" fill="none"/>
  <path d="M2.8,2.9 L5.1,10.8 M2.8,30.5 L5.1,22.6 M24.6,2.9 L21.7,10.8 M24.6,30.5 L21.7,22.6" stroke="#333" stroke-width="0.8" fill="none"/>
  <path d="M2.6,2.9 H24.8 M2.6,30.5 H24.8" stroke="#1c1c1c" stroke-width="1.2" fill="none"/>
  <path d="M7.4,2.9 h2 M16.5,2.9 h2 M7.4,30.5 h2 M16.5,30.5 h2" stroke="#000" stroke-width="1.5" fill="none"/>
  <path d="M12.2,0.2 L14.4,0.2 L13.3,1.6 Z M12.2,33.2 L14.4,33.2 L13.3,31.8 Z" fill="#000"/>
  <path d="M0.6,10.6 H5 M0.6,22.8 H5 M21.8,10.6 H25.9 M21.8,22.8 H25.9" stroke="#666" stroke-width="0.6" fill="none"/>
  <path d="M5.1,11.1 L9.7,5.4 L19.4,5.4 L21.7,9.6 L21.7,23.8 L19.4,28 L9.7,28 L5.1,22.3 Z" fill="#ececec" stroke="#101010" stroke-width="1.5" stroke-linejoin="round"/>
  <path d="M19.3,9 L21.1,10.4 L21.1,23 L19.3,24.4 Z" fill="#c2c2c2"/>
  <path d="M11.4,8.5 L17,8.5 Q18.7,8.5 18.7,10.2 L18.7,23.2 Q18.7,24.9 17,24.9 L11.4,24.9 Q8.6,22.6 7.7,19.4 L7.7,14 Q8.6,10.8 11.4,8.5 Z" fill="#fff" stroke="#141414" stroke-width="1.2"/>
  <rect x="12.4" y="11" width="4.5" height="1.5" rx="0.5" fill="#000"/>
  <rect x="9.4" y="15.9" width="4.5" height="1.5" rx="0.5" fill="#000"/>
  <rect x="12.4" y="20.9" width="4.5" height="1.5" rx="0.5" fill="#000"/>
  <rect x="25.75" y="0" width="1.4" height="33.4" fill="#0c0c0c"/>
  <rect x="-0.7" y="0" width="1.4" height="33.4" fill="#0c0c0c"/>
</g>
<g transform="translate(423.6,226)">
  <rect x="0" y="0" width="26.45" height="33.4" fill="#fff"/>
  <rect x="0" y="0" width="26.45" height="1" fill="#1c1c1c"/>
  <rect x="0" y="32.4" width="26.45" height="1" fill="#1c1c1c"/>
  <rect x="0" y="1" width="26.45" height="1.4" fill="#909090"/>
  <rect x="0" y="31" width="26.45" height="1.4" fill="#909090"/>
  <path d="M0.7,2.3 L2.8,2.3 L5.1,10.5 L0.7,10.5 Z M0.7,31.1 L2.8,31.1 L5.1,22.9 L0.7,22.9 Z M25.8,2.3 L24.6,2.3 L21.7,10.5 L25.8,10.5 Z M25.8,31.1 L24.6,31.1 L21.7,22.9 L25.8,22.9 Z" fill="#cfcfcf"/>
  <path d="M1.5,2.3 V10.5 M1.5,22.9 V31.1 M24.9,2.3 V10.5 M24.9,22.9 V31.1" stroke="#fff" stroke-width="0.8" fill="none"/>
  <path d="M2.8,2.9 L5.1,10.8 M2.8,30.5 L5.1,22.6 M24.6,2.9 L21.7,10.8 M24.6,30.5 L21.7,22.6" stroke="#333" stroke-width="0.8" fill="none"/>
  <path d="M2.6,2.9 H24.8 M2.6,30.5 H24.8" stroke="#1c1c1c" stroke-width="1.2" fill="none"/>
  <path d="M7.4,2.9 h2 M16.5,2.9 h2 M7.4,30.5 h2 M16.5,30.5 h2" stroke="#000" stroke-width="1.5" fill="none"/>
  <path d="M12.2,0.2 L14.4,0.2 L13.3,1.6 Z M12.2,33.2 L14.4,33.2 L13.3,31.8 Z" fill="#000"/>
  <path d="M0.6,10.6 H5 M0.6,22.8 H5 M21.8,10.6 H25.9 M21.8,22.8 H25.9" stroke="#666" stroke-width="0.6" fill="none"/>
  <path d="M5.1,11.1 L9.7,5.4 L19.4,5.4 L21.7,9.6 L21.7,23.8 L19.4,28 L9.7,28 L5.1,22.3 Z" fill="#ececec" stroke="#101010" stroke-width="1.5" stroke-linejoin="round"/>
  <path d="M19.3,9 L21.1,10.4 L21.1,23 L19.3,24.4 Z" fill="#c2c2c2"/>
  <path d="M11.4,8.5 L17,8.5 Q18.7,8.5 18.7,10.2 L18.7,23.2 Q18.7,24.9 17,24.9 L11.4,24.9 Q8.6,22.6 7.7,19.4 L7.7,14 Q8.6,10.8 11.4,8.5 Z" fill="#fff" stroke="#141414" stroke-width="1.2"/>
  <rect x="12.4" y="11" width="4.5" height="1.5" rx="0.5" fill="#000"/>
  <rect x="9.4" y="15.9" width="4.5" height="1.5" rx="0.5" fill="#000"/>
  <rect x="12.4" y="20.9" width="4.5" height="1.5" rx="0.5" fill="#000"/>
  <rect x="25.75" y="0" width="1.4" height="33.4" fill="#0c0c0c"/>
  <rect x="-0.7" y="0" width="1.4" height="33.4" fill="#0c0c0c"/>
</g>
<g transform="translate(450.05,226)">
  <rect x="0" y="0" width="26.45" height="33.4" fill="#fff"/>
  <rect x="0" y="0" width="26.45" height="1" fill="#1c1c1c"/>
  <rect x="0" y="32.4" width="26.45" height="1" fill="#1c1c1c"/>
  <rect x="0" y="1" width="26.45" height="1.4" fill="#909090"/>
  <rect x="0" y="31" width="26.45" height="1.4" fill="#909090"/>
  <path d="M0.7,2.3 L2.8,2.3 L5.1,10.5 L0.7,10.5 Z M0.7,31.1 L2.8,31.1 L5.1,22.9 L0.7,22.9 Z M25.8,2.3 L24.6,2.3 L21.7,10.5 L25.8,10.5 Z M25.8,31.1 L24.6,31.1 L21.7,22.9 L25.8,22.9 Z" fill="#cfcfcf"/>
  <path d="M1.5,2.3 V10.5 M1.5,22.9 V31.1 M24.9,2.3 V10.5 M24.9,22.9 V31.1" stroke="#fff" stroke-width="0.8" fill="none"/>
  <path d="M2.8,2.9 L5.1,10.8 M2.8,30.5 L5.1,22.6 M24.6,2.9 L21.7,10.8 M24.6,30.5 L21.7,22.6" stroke="#333" stroke-width="0.8" fill="none"/>
  <path d="M2.6,2.9 H24.8 M2.6,30.5 H24.8" stroke="#1c1c1c" stroke-width="1.2" fill="none"/>
  <path d="M7.4,2.9 h2 M16.5,2.9 h2 M7.4,30.5 h2 M16.5,30.5 h2" stroke="#000" stroke-width="1.5" fill="none"/>
  <path d="M12.2,0.2 L14.4,0.2 L13.3,1.6 Z M12.2,33.2 L14.4,33.2 L13.3,31.8 Z" fill="#000"/>
  <path d="M0.6,10.6 H5 M0.6,22.8 H5 M21.8,10.6 H25.9 M21.8,22.8 H25.9" stroke="#666" stroke-width="0.6" fill="none"/>
  <path d="M5.1,11.1 L9.7,5.4 L19.4,5.4 L21.7,9.6 L21.7,23.8 L19.4,28 L9.7,28 L5.1,22.3 Z" fill="#ececec" stroke="#101010" stroke-width="1.5" stroke-linejoin="round"/>
  <path d="M19.3,9 L21.1,10.4 L21.1,23 L19.3,24.4 Z" fill="#c2c2c2"/>
  <path d="M11.4,8.5 L17,8.5 Q18.7,8.5 18.7,10.2 L18.7,23.2 Q18.7,24.9 17,24.9 L11.4,24.9 Q8.6,22.6 7.7,19.4 L7.7,14 Q8.6,10.8 11.4,8.5 Z" fill="#fff" stroke="#141414" stroke-width="1.2"/>
  <rect x="12.4" y="11" width="4.5" height="1.5" rx="0.5" fill="#000"/>
  <rect x="9.4" y="15.9" width="4.5" height="1.5" rx="0.5" fill="#000"/>
  <rect x="12.4" y="20.9" width="4.5" height="1.5" rx="0.5" fill="#000"/>
  <rect x="25.75" y="0" width="1.4" height="33.4" fill="#0c0c0c"/>
  <rect x="-0.7" y="0" width="1.4" height="33.4" fill="#0c0c0c"/>
</g>
<rect x="476.70" y="227.00" width="21.40" height="32.00" fill="#fff" stroke="#555" stroke-width="0.8" rx="0" />
<line x1="483.70000000000005" y1="227" x2="483.70000000000005" y2="259" stroke="#666" stroke-width="0.7" />
<ellipse cx="480.0" cy="242.9" rx="1.4" ry="1.1" fill="#168a22"/>
<g transform="translate(498.5,226)">
  <rect x="-0.4" y="0" width="30.4" height="33.4" fill="#2b2b2b"/>
  <rect x="2.1" y="1.5" width="25.4" height="30.4" fill="#fff"/>
  <rect x="1.8" y="1.5" width="26" height="1.5" fill="#999"/>
  <rect x="1.8" y="30.4" width="26" height="1.5" fill="#999"/>
  <rect x="12.6" y="0.3" width="4.4" height="0.9" rx="0.4" fill="#000"/>
  <rect x="12.6" y="32.2" width="4.4" height="0.9" rx="0.4" fill="#000"/>
  <rect x="2.9" y="2.6" width="23.8" height="28.2" fill="none" stroke="#444" stroke-width="0.7"/>
  <rect x="4.9" y="4" width="19.8" height="25.4" fill="none" stroke="#555" stroke-width="0.6"/>
  <path d="M2.9,2.6 L4.9,4 M26.7,2.6 L24.7,4 M2.9,30.8 L4.9,29.4 M26.7,30.8 L24.7,29.4" stroke="#444" stroke-width="0.6"/>
  <rect x="1.2" y="12.9" width="3.2" height="7" rx="1.5" fill="#fff" stroke="#444" stroke-width="0.4"/>
  <rect x="25.2" y="12.9" width="3.2" height="7" rx="1.5" fill="#fff" stroke="#444" stroke-width="0.4"/>
  <rect x="6.9" y="5.9" width="17" height="21.6" rx="3.4" fill="#fff" stroke="#161616" stroke-width="1.6"/>
  <rect x="8.7" y="7.6" width="13.6" height="18.2" rx="2.4" fill="#fff" stroke="#2a2a2a" stroke-width="0.9"/>
  <rect x="10.5" y="13.8" width="2.9" height="5.7" rx="0.7" fill="#2a2a2a"/>
  <rect x="16.5" y="9.1" width="2.9" height="5.3" rx="0.7" fill="#2a2a2a"/>
  <rect x="16.5" y="19" width="2.9" height="5.3" rx="0.7" fill="#2a2a2a"/>
</g>
<g transform="translate(527.7,226)">
  <rect x="-0.4" y="0" width="30.4" height="33.4" fill="#2b2b2b"/>
  <rect x="2.1" y="1.5" width="25.4" height="30.4" fill="#fff"/>
  <rect x="1.8" y="1.5" width="26" height="1.5" fill="#999"/>
  <rect x="1.8" y="30.4" width="26" height="1.5" fill="#999"/>
  <rect x="12.6" y="0.3" width="4.4" height="0.9" rx="0.4" fill="#000"/>
  <rect x="12.6" y="32.2" width="4.4" height="0.9" rx="0.4" fill="#000"/>
  <rect x="2.9" y="2.6" width="23.8" height="28.2" fill="none" stroke="#444" stroke-width="0.7"/>
  <rect x="4.9" y="4" width="19.8" height="25.4" fill="none" stroke="#555" stroke-width="0.6"/>
  <path d="M2.9,2.6 L4.9,4 M26.7,2.6 L24.7,4 M2.9,30.8 L4.9,29.4 M26.7,30.8 L24.7,29.4" stroke="#444" stroke-width="0.6"/>
  <rect x="1.2" y="12.9" width="3.2" height="7" rx="1.5" fill="#fff" stroke="#444" stroke-width="0.4"/>
  <rect x="25.2" y="12.9" width="3.2" height="7" rx="1.5" fill="#fff" stroke="#444" stroke-width="0.4"/>
  <rect x="6.9" y="5.9" width="17" height="21.6" rx="3.4" fill="#fff" stroke="#161616" stroke-width="1.6"/>
  <rect x="8.7" y="7.6" width="13.6" height="18.2" rx="2.4" fill="#fff" stroke="#2a2a2a" stroke-width="0.9"/>
  <rect x="10.5" y="13.8" width="2.9" height="5.7" rx="0.7" fill="#2a2a2a"/>
  <rect x="16.5" y="9.1" width="2.9" height="5.3" rx="0.7" fill="#2a2a2a"/>
  <rect x="16.5" y="19" width="2.9" height="5.3" rx="0.7" fill="#2a2a2a"/>
</g>
<g transform="translate(557.5,226)">
  <rect x="0" y="0" width="26.45" height="33.4" fill="#fff"/>
  <rect x="0" y="0" width="26.45" height="1" fill="#1c1c1c"/>
  <rect x="0" y="32.4" width="26.45" height="1" fill="#1c1c1c"/>
  <rect x="0" y="1" width="26.45" height="1.4" fill="#909090"/>
  <rect x="0" y="31" width="26.45" height="1.4" fill="#909090"/>
  <path d="M0.7,2.3 L2.8,2.3 L5.1,10.5 L0.7,10.5 Z M0.7,31.1 L2.8,31.1 L5.1,22.9 L0.7,22.9 Z M25.8,2.3 L24.6,2.3 L21.7,10.5 L25.8,10.5 Z M25.8,31.1 L24.6,31.1 L21.7,22.9 L25.8,22.9 Z" fill="#cfcfcf"/>
  <path d="M1.5,2.3 V10.5 M1.5,22.9 V31.1 M24.9,2.3 V10.5 M24.9,22.9 V31.1" stroke="#fff" stroke-width="0.8" fill="none"/>
  <path d="M2.8,2.9 L5.1,10.8 M2.8,30.5 L5.1,22.6 M24.6,2.9 L21.7,10.8 M24.6,30.5 L21.7,22.6" stroke="#333" stroke-width="0.8" fill="none"/>
  <path d="M2.6,2.9 H24.8 M2.6,30.5 H24.8" stroke="#1c1c1c" stroke-width="1.2" fill="none"/>
  <path d="M7.4,2.9 h2 M16.5,2.9 h2 M7.4,30.5 h2 M16.5,30.5 h2" stroke="#000" stroke-width="1.5" fill="none"/>
  <path d="M12.2,0.2 L14.4,0.2 L13.3,1.6 Z M12.2,33.2 L14.4,33.2 L13.3,31.8 Z" fill="#000"/>
  <path d="M0.6,10.6 H5 M0.6,22.8 H5 M21.8,10.6 H25.9 M21.8,22.8 H25.9" stroke="#666" stroke-width="0.6" fill="none"/>
  <path d="M5.1,11.1 L9.7,5.4 L19.4,5.4 L21.7,9.6 L21.7,23.8 L19.4,28 L9.7,28 L5.1,22.3 Z" fill="#ececec" stroke="#101010" stroke-width="1.5" stroke-linejoin="round"/>
  <path d="M19.3,9 L21.1,10.4 L21.1,23 L19.3,24.4 Z" fill="#c2c2c2"/>
  <path d="M11.4,8.5 L17,8.5 Q18.7,8.5 18.7,10.2 L18.7,23.2 Q18.7,24.9 17,24.9 L11.4,24.9 Q8.6,22.6 7.7,19.4 L7.7,14 Q8.6,10.8 11.4,8.5 Z" fill="#fff" stroke="#141414" stroke-width="1.2"/>
  <rect x="12.4" y="11" width="4.5" height="1.5" rx="0.5" fill="#000"/>
  <rect x="9.4" y="15.9" width="4.5" height="1.5" rx="0.5" fill="#000"/>
  <rect x="12.4" y="20.9" width="4.5" height="1.5" rx="0.5" fill="#000"/>
  <rect x="25.75" y="0" width="1.4" height="33.4" fill="#0c0c0c"/>
  <rect x="-0.7" y="0" width="1.4" height="33.4" fill="#0c0c0c"/>
</g>
<g transform="translate(583.95,226)">
  <rect x="0" y="0" width="26.45" height="33.4" fill="#fff"/>
  <rect x="0" y="0" width="26.45" height="1" fill="#1c1c1c"/>
  <rect x="0" y="32.4" width="26.45" height="1" fill="#1c1c1c"/>
  <rect x="0" y="1" width="26.45" height="1.4" fill="#909090"/>
  <rect x="0" y="31" width="26.45" height="1.4" fill="#909090"/>
  <path d="M0.7,2.3 L2.8,2.3 L5.1,10.5 L0.7,10.5 Z M0.7,31.1 L2.8,31.1 L5.1,22.9 L0.7,22.9 Z M25.8,2.3 L24.6,2.3 L21.7,10.5 L25.8,10.5 Z M25.8,31.1 L24.6,31.1 L21.7,22.9 L25.8,22.9 Z" fill="#cfcfcf"/>
  <path d="M1.5,2.3 V10.5 M1.5,22.9 V31.1 M24.9,2.3 V10.5 M24.9,22.9 V31.1" stroke="#fff" stroke-width="0.8" fill="none"/>
  <path d="M2.8,2.9 L5.1,10.8 M2.8,30.5 L5.1,22.6 M24.6,2.9 L21.7,10.8 M24.6,30.5 L21.7,22.6" stroke="#333" stroke-width="0.8" fill="none"/>
  <path d="M2.6,2.9 H24.8 M2.6,30.5 H24.8" stroke="#1c1c1c" stroke-width="1.2" fill="none"/>
  <path d="M7.4,2.9 h2 M16.5,2.9 h2 M7.4,30.5 h2 M16.5,30.5 h2" stroke="#000" stroke-width="1.5" fill="none"/>
  <path d="M12.2,0.2 L14.4,0.2 L13.3,1.6 Z M12.2,33.2 L14.4,33.2 L13.3,31.8 Z" fill="#000"/>
  <path d="M0.6,10.6 H5 M0.6,22.8 H5 M21.8,10.6 H25.9 M21.8,22.8 H25.9" stroke="#666" stroke-width="0.6" fill="none"/>
  <path d="M5.1,11.1 L9.7,5.4 L19.4,5.4 L21.7,9.6 L21.7,23.8 L19.4,28 L9.7,28 L5.1,22.3 Z" fill="#ececec" stroke="#101010" stroke-width="1.5" stroke-linejoin="round"/>
  <path d="M19.3,9 L21.1,10.4 L21.1,23 L19.3,24.4 Z" fill="#c2c2c2"/>
  <path d="M11.4,8.5 L17,8.5 Q18.7,8.5 18.7,10.2 L18.7,23.2 Q18.7,24.9 17,24.9 L11.4,24.9 Q8.6,22.6 7.7,19.4 L7.7,14 Q8.6,10.8 11.4,8.5 Z" fill="#fff" stroke="#141414" stroke-width="1.2"/>
  <rect x="12.4" y="11" width="4.5" height="1.5" rx="0.5" fill="#000"/>
  <rect x="9.4" y="15.9" width="4.5" height="1.5" rx="0.5" fill="#000"/>
  <rect x="12.4" y="20.9" width="4.5" height="1.5" rx="0.5" fill="#000"/>
  <rect x="25.75" y="0" width="1.4" height="33.4" fill="#0c0c0c"/>
  <rect x="-0.7" y="0" width="1.4" height="33.4" fill="#0c0c0c"/>
</g>
<g transform="translate(610.4,226)">
  <rect x="0" y="0" width="26.45" height="33.4" fill="#fff"/>
  <rect x="0" y="0" width="26.45" height="1" fill="#1c1c1c"/>
  <rect x="0" y="32.4" width="26.45" height="1" fill="#1c1c1c"/>
  <rect x="0" y="1" width="26.45" height="1.4" fill="#909090"/>
  <rect x="0" y="31" width="26.45" height="1.4" fill="#909090"/>
  <path d="M0.7,2.3 L2.8,2.3 L5.1,10.5 L0.7,10.5 Z M0.7,31.1 L2.8,31.1 L5.1,22.9 L0.7,22.9 Z M25.8,2.3 L24.6,2.3 L21.7,10.5 L25.8,10.5 Z M25.8,31.1 L24.6,31.1 L21.7,22.9 L25.8,22.9 Z" fill="#cfcfcf"/>
  <path d="M1.5,2.3 V10.5 M1.5,22.9 V31.1 M24.9,2.3 V10.5 M24.9,22.9 V31.1" stroke="#fff" stroke-width="0.8" fill="none"/>
  <path d="M2.8,2.9 L5.1,10.8 M2.8,30.5 L5.1,22.6 M24.6,2.9 L21.7,10.8 M24.6,30.5 L21.7,22.6" stroke="#333" stroke-width="0.8" fill="none"/>
  <path d="M2.6,2.9 H24.8 M2.6,30.5 H24.8" stroke="#1c1c1c" stroke-width="1.2" fill="none"/>
  <path d="M7.4,2.9 h2 M16.5,2.9 h2 M7.4,30.5 h2 M16.5,30.5 h2" stroke="#000" stroke-width="1.5" fill="none"/>
  <path d="M12.2,0.2 L14.4,0.2 L13.3,1.6 Z M12.2,33.2 L14.4,33.2 L13.3,31.8 Z" fill="#000"/>
  <path d="M0.6,10.6 H5 M0.6,22.8 H5 M21.8,10.6 H25.9 M21.8,22.8 H25.9" stroke="#666" stroke-width="0.6" fill="none"/>
  <path d="M5.1,11.1 L9.7,5.4 L19.4,5.4 L21.7,9.6 L21.7,23.8 L19.4,28 L9.7,28 L5.1,22.3 Z" fill="#ececec" stroke="#101010" stroke-width="1.5" stroke-linejoin="round"/>
  <path d="M19.3,9 L21.1,10.4 L21.1,23 L19.3,24.4 Z" fill="#c2c2c2"/>
  <path d="M11.4,8.5 L17,8.5 Q18.7,8.5 18.7,10.2 L18.7,23.2 Q18.7,24.9 17,24.9 L11.4,24.9 Q8.6,22.6 7.7,19.4 L7.7,14 Q8.6,10.8 11.4,8.5 Z" fill="#fff" stroke="#141414" stroke-width="1.2"/>
  <rect x="12.4" y="11" width="4.5" height="1.5" rx="0.5" fill="#000"/>
  <rect x="9.4" y="15.9" width="4.5" height="1.5" rx="0.5" fill="#000"/>
  <rect x="12.4" y="20.9" width="4.5" height="1.5" rx="0.5" fill="#000"/>
  <rect x="25.75" y="0" width="1.4" height="33.4" fill="#0c0c0c"/>
  <rect x="-0.7" y="0" width="1.4" height="33.4" fill="#0c0c0c"/>
</g>
<g transform="translate(636.85,226)">
  <rect x="0" y="0" width="26.45" height="33.4" fill="#fff"/>
  <rect x="0" y="0" width="26.45" height="1" fill="#1c1c1c"/>
  <rect x="0" y="32.4" width="26.45" height="1" fill="#1c1c1c"/>
  <rect x="0" y="1" width="26.45" height="1.4" fill="#909090"/>
  <rect x="0" y="31" width="26.45" height="1.4" fill="#909090"/>
  <path d="M0.7,2.3 L2.8,2.3 L5.1,10.5 L0.7,10.5 Z M0.7,31.1 L2.8,31.1 L5.1,22.9 L0.7,22.9 Z M25.8,2.3 L24.6,2.3 L21.7,10.5 L25.8,10.5 Z M25.8,31.1 L24.6,31.1 L21.7,22.9 L25.8,22.9 Z" fill="#cfcfcf"/>
  <path d="M1.5,2.3 V10.5 M1.5,22.9 V31.1 M24.9,2.3 V10.5 M24.9,22.9 V31.1" stroke="#fff" stroke-width="0.8" fill="none"/>
  <path d="M2.8,2.9 L5.1,10.8 M2.8,30.5 L5.1,22.6 M24.6,2.9 L21.7,10.8 M24.6,30.5 L21.7,22.6" stroke="#333" stroke-width="0.8" fill="none"/>
  <path d="M2.6,2.9 H24.8 M2.6,30.5 H24.8" stroke="#1c1c1c" stroke-width="1.2" fill="none"/>
  <path d="M7.4,2.9 h2 M16.5,2.9 h2 M7.4,30.5 h2 M16.5,30.5 h2" stroke="#000" stroke-width="1.5" fill="none"/>
  <path d="M12.2,0.2 L14.4,0.2 L13.3,1.6 Z M12.2,33.2 L14.4,33.2 L13.3,31.8 Z" fill="#000"/>
  <path d="M0.6,10.6 H5 M0.6,22.8 H5 M21.8,10.6 H25.9 M21.8,22.8 H25.9" stroke="#666" stroke-width="0.6" fill="none"/>
  <path d="M5.1,11.1 L9.7,5.4 L19.4,5.4 L21.7,9.6 L21.7,23.8 L19.4,28 L9.7,28 L5.1,22.3 Z" fill="#ececec" stroke="#101010" stroke-width="1.5" stroke-linejoin="round"/>
  <path d="M19.3,9 L21.1,10.4 L21.1,23 L19.3,24.4 Z" fill="#c2c2c2"/>
  <path d="M11.4,8.5 L17,8.5 Q18.7,8.5 18.7,10.2 L18.7,23.2 Q18.7,24.9 17,24.9 L11.4,24.9 Q8.6,22.6 7.7,19.4 L7.7,14 Q8.6,10.8 11.4,8.5 Z" fill="#fff" stroke="#141414" stroke-width="1.2"/>
  <rect x="12.4" y="11" width="4.5" height="1.5" rx="0.5" fill="#000"/>
  <rect x="9.4" y="15.9" width="4.5" height="1.5" rx="0.5" fill="#000"/>
  <rect x="12.4" y="20.9" width="4.5" height="1.5" rx="0.5" fill="#000"/>
  <rect x="25.75" y="0" width="1.4" height="33.4" fill="#0c0c0c"/>
  <rect x="-0.7" y="0" width="1.4" height="33.4" fill="#0c0c0c"/>
</g>
<g transform="translate(663.3,226)">
  <rect x="0" y="0" width="26.45" height="33.4" fill="#fff"/>
  <rect x="0" y="0" width="26.45" height="1" fill="#1c1c1c"/>
  <rect x="0" y="32.4" width="26.45" height="1" fill="#1c1c1c"/>
  <rect x="0" y="1" width="26.45" height="1.4" fill="#909090"/>
  <rect x="0" y="31" width="26.45" height="1.4" fill="#909090"/>
  <path d="M0.7,2.3 L2.8,2.3 L5.1,10.5 L0.7,10.5 Z M0.7,31.1 L2.8,31.1 L5.1,22.9 L0.7,22.9 Z M25.8,2.3 L24.6,2.3 L21.7,10.5 L25.8,10.5 Z M25.8,31.1 L24.6,31.1 L21.7,22.9 L25.8,22.9 Z" fill="#cfcfcf"/>
  <path d="M1.5,2.3 V10.5 M1.5,22.9 V31.1 M24.9,2.3 V10.5 M24.9,22.9 V31.1" stroke="#fff" stroke-width="0.8" fill="none"/>
  <path d="M2.8,2.9 L5.1,10.8 M2.8,30.5 L5.1,22.6 M24.6,2.9 L21.7,10.8 M24.6,30.5 L21.7,22.6" stroke="#333" stroke-width="0.8" fill="none"/>
  <path d="M2.6,2.9 H24.8 M2.6,30.5 H24.8" stroke="#1c1c1c" stroke-width="1.2" fill="none"/>
  <path d="M7.4,2.9 h2 M16.5,2.9 h2 M7.4,30.5 h2 M16.5,30.5 h2" stroke="#000" stroke-width="1.5" fill="none"/>
  <path d="M12.2,0.2 L14.4,0.2 L13.3,1.6 Z M12.2,33.2 L14.4,33.2 L13.3,31.8 Z" fill="#000"/>
  <path d="M0.6,10.6 H5 M0.6,22.8 H5 M21.8,10.6 H25.9 M21.8,22.8 H25.9" stroke="#666" stroke-width="0.6" fill="none"/>
  <path d="M5.1,11.1 L9.7,5.4 L19.4,5.4 L21.7,9.6 L21.7,23.8 L19.4,28 L9.7,28 L5.1,22.3 Z" fill="#ececec" stroke="#101010" stroke-width="1.5" stroke-linejoin="round"/>
  <path d="M19.3,9 L21.1,10.4 L21.1,23 L19.3,24.4 Z" fill="#c2c2c2"/>
  <path d="M11.4,8.5 L17,8.5 Q18.7,8.5 18.7,10.2 L18.7,23.2 Q18.7,24.9 17,24.9 L11.4,24.9 Q8.6,22.6 7.7,19.4 L7.7,14 Q8.6,10.8 11.4,8.5 Z" fill="#fff" stroke="#141414" stroke-width="1.2"/>
  <rect x="12.4" y="11" width="4.5" height="1.5" rx="0.5" fill="#000"/>
  <rect x="9.4" y="15.9" width="4.5" height="1.5" rx="0.5" fill="#000"/>
  <rect x="12.4" y="20.9" width="4.5" height="1.5" rx="0.5" fill="#000"/>
  <rect x="25.75" y="0" width="1.4" height="33.4" fill="#0c0c0c"/>
  <rect x="-0.7" y="0" width="1.4" height="33.4" fill="#0c0c0c"/>
</g>
<g transform="translate(689.75,226)">
  <rect x="0" y="0" width="26.45" height="33.4" fill="#fff"/>
  <rect x="0" y="0" width="26.45" height="1" fill="#1c1c1c"/>
  <rect x="0" y="32.4" width="26.45" height="1" fill="#1c1c1c"/>
  <rect x="0" y="1" width="26.45" height="1.4" fill="#909090"/>
  <rect x="0" y="31" width="26.45" height="1.4" fill="#909090"/>
  <path d="M0.7,2.3 L2.8,2.3 L5.1,10.5 L0.7,10.5 Z M0.7,31.1 L2.8,31.1 L5.1,22.9 L0.7,22.9 Z M25.8,2.3 L24.6,2.3 L21.7,10.5 L25.8,10.5 Z M25.8,31.1 L24.6,31.1 L21.7,22.9 L25.8,22.9 Z" fill="#cfcfcf"/>
  <path d="M1.5,2.3 V10.5 M1.5,22.9 V31.1 M24.9,2.3 V10.5 M24.9,22.9 V31.1" stroke="#fff" stroke-width="0.8" fill="none"/>
  <path d="M2.8,2.9 L5.1,10.8 M2.8,30.5 L5.1,22.6 M24.6,2.9 L21.7,10.8 M24.6,30.5 L21.7,22.6" stroke="#333" stroke-width="0.8" fill="none"/>
  <path d="M2.6,2.9 H24.8 M2.6,30.5 H24.8" stroke="#1c1c1c" stroke-width="1.2" fill="none"/>
  <path d="M7.4,2.9 h2 M16.5,2.9 h2 M7.4,30.5 h2 M16.5,30.5 h2" stroke="#000" stroke-width="1.5" fill="none"/>
  <path d="M12.2,0.2 L14.4,0.2 L13.3,1.6 Z M12.2,33.2 L14.4,33.2 L13.3,31.8 Z" fill="#000"/>
  <path d="M0.6,10.6 H5 M0.6,22.8 H5 M21.8,10.6 H25.9 M21.8,22.8 H25.9" stroke="#666" stroke-width="0.6" fill="none"/>
  <path d="M5.1,11.1 L9.7,5.4 L19.4,5.4 L21.7,9.6 L21.7,23.8 L19.4,28 L9.7,28 L5.1,22.3 Z" fill="#ececec" stroke="#101010" stroke-width="1.5" stroke-linejoin="round"/>
  <path d="M19.3,9 L21.1,10.4 L21.1,23 L19.3,24.4 Z" fill="#c2c2c2"/>
  <path d="M11.4,8.5 L17,8.5 Q18.7,8.5 18.7,10.2 L18.7,23.2 Q18.7,24.9 17,24.9 L11.4,24.9 Q8.6,22.6 7.7,19.4 L7.7,14 Q8.6,10.8 11.4,8.5 Z" fill="#fff" stroke="#141414" stroke-width="1.2"/>
  <rect x="12.4" y="11" width="4.5" height="1.5" rx="0.5" fill="#000"/>
  <rect x="9.4" y="15.9" width="4.5" height="1.5" rx="0.5" fill="#000"/>
  <rect x="12.4" y="20.9" width="4.5" height="1.5" rx="0.5" fill="#000"/>
  <rect x="25.75" y="0" width="1.4" height="33.4" fill="#0c0c0c"/>
  <rect x="-0.7" y="0" width="1.4" height="33.4" fill="#0c0c0c"/>
</g>
<g transform="translate(716.2,226)">
  <rect x="0" y="0" width="26.45" height="33.4" fill="#fff"/>
  <rect x="0" y="0" width="26.45" height="1" fill="#1c1c1c"/>
  <rect x="0" y="32.4" width="26.45" height="1" fill="#1c1c1c"/>
  <rect x="0" y="1" width="26.45" height="1.4" fill="#909090"/>
  <rect x="0" y="31" width="26.45" height="1.4" fill="#909090"/>
  <path d="M0.7,2.3 L2.8,2.3 L5.1,10.5 L0.7,10.5 Z M0.7,31.1 L2.8,31.1 L5.1,22.9 L0.7,22.9 Z M25.8,2.3 L24.6,2.3 L21.7,10.5 L25.8,10.5 Z M25.8,31.1 L24.6,31.1 L21.7,22.9 L25.8,22.9 Z" fill="#cfcfcf"/>
  <path d="M1.5,2.3 V10.5 M1.5,22.9 V31.1 M24.9,2.3 V10.5 M24.9,22.9 V31.1" stroke="#fff" stroke-width="0.8" fill="none"/>
  <path d="M2.8,2.9 L5.1,10.8 M2.8,30.5 L5.1,22.6 M24.6,2.9 L21.7,10.8 M24.6,30.5 L21.7,22.6" stroke="#333" stroke-width="0.8" fill="none"/>
  <path d="M2.6,2.9 H24.8 M2.6,30.5 H24.8" stroke="#1c1c1c" stroke-width="1.2" fill="none"/>
  <path d="M7.4,2.9 h2 M16.5,2.9 h2 M7.4,30.5 h2 M16.5,30.5 h2" stroke="#000" stroke-width="1.5" fill="none"/>
  <path d="M12.2,0.2 L14.4,0.2 L13.3,1.6 Z M12.2,33.2 L14.4,33.2 L13.3,31.8 Z" fill="#000"/>
  <path d="M0.6,10.6 H5 M0.6,22.8 H5 M21.8,10.6 H25.9 M21.8,22.8 H25.9" stroke="#666" stroke-width="0.6" fill="none"/>
  <path d="M5.1,11.1 L9.7,5.4 L19.4,5.4 L21.7,9.6 L21.7,23.8 L19.4,28 L9.7,28 L5.1,22.3 Z" fill="#ececec" stroke="#101010" stroke-width="1.5" stroke-linejoin="round"/>
  <path d="M19.3,9 L21.1,10.4 L21.1,23 L19.3,24.4 Z" fill="#c2c2c2"/>
  <path d="M11.4,8.5 L17,8.5 Q18.7,8.5 18.7,10.2 L18.7,23.2 Q18.7,24.9 17,24.9 L11.4,24.9 Q8.6,22.6 7.7,19.4 L7.7,14 Q8.6,10.8 11.4,8.5 Z" fill="#fff" stroke="#141414" stroke-width="1.2"/>
  <rect x="12.4" y="11" width="4.5" height="1.5" rx="0.5" fill="#000"/>
  <rect x="9.4" y="15.9" width="4.5" height="1.5" rx="0.5" fill="#000"/>
  <rect x="12.4" y="20.9" width="4.5" height="1.5" rx="0.5" fill="#000"/>
  <rect x="25.75" y="0" width="1.4" height="33.4" fill="#0c0c0c"/>
  <rect x="-0.7" y="0" width="1.4" height="33.4" fill="#0c0c0c"/>
</g>
<g transform="translate(742.65,226)">
  <rect x="0" y="0" width="26.45" height="33.4" fill="#fff"/>
  <rect x="0" y="0" width="26.45" height="1" fill="#1c1c1c"/>
  <rect x="0" y="32.4" width="26.45" height="1" fill="#1c1c1c"/>
  <rect x="0" y="1" width="26.45" height="1.4" fill="#909090"/>
  <rect x="0" y="31" width="26.45" height="1.4" fill="#909090"/>
  <path d="M0.7,2.3 L2.8,2.3 L5.1,10.5 L0.7,10.5 Z M0.7,31.1 L2.8,31.1 L5.1,22.9 L0.7,22.9 Z M25.8,2.3 L24.6,2.3 L21.7,10.5 L25.8,10.5 Z M25.8,31.1 L24.6,31.1 L21.7,22.9 L25.8,22.9 Z" fill="#cfcfcf"/>
  <path d="M1.5,2.3 V10.5 M1.5,22.9 V31.1 M24.9,2.3 V10.5 M24.9,22.9 V31.1" stroke="#fff" stroke-width="0.8" fill="none"/>
  <path d="M2.8,2.9 L5.1,10.8 M2.8,30.5 L5.1,22.6 M24.6,2.9 L21.7,10.8 M24.6,30.5 L21.7,22.6" stroke="#333" stroke-width="0.8" fill="none"/>
  <path d="M2.6,2.9 H24.8 M2.6,30.5 H24.8" stroke="#1c1c1c" stroke-width="1.2" fill="none"/>
  <path d="M7.4,2.9 h2 M16.5,2.9 h2 M7.4,30.5 h2 M16.5,30.5 h2" stroke="#000" stroke-width="1.5" fill="none"/>
  <path d="M12.2,0.2 L14.4,0.2 L13.3,1.6 Z M12.2,33.2 L14.4,33.2 L13.3,31.8 Z" fill="#000"/>
  <path d="M0.6,10.6 H5 M0.6,22.8 H5 M21.8,10.6 H25.9 M21.8,22.8 H25.9" stroke="#666" stroke-width="0.6" fill="none"/>
  <path d="M5.1,11.1 L9.7,5.4 L19.4,5.4 L21.7,9.6 L21.7,23.8 L19.4,28 L9.7,28 L5.1,22.3 Z" fill="#ececec" stroke="#101010" stroke-width="1.5" stroke-linejoin="round"/>
  <path d="M19.3,9 L21.1,10.4 L21.1,23 L19.3,24.4 Z" fill="#c2c2c2"/>
  <path d="M11.4,8.5 L17,8.5 Q18.7,8.5 18.7,10.2 L18.7,23.2 Q18.7,24.9 17,24.9 L11.4,24.9 Q8.6,22.6 7.7,19.4 L7.7,14 Q8.6,10.8 11.4,8.5 Z" fill="#fff" stroke="#141414" stroke-width="1.2"/>
  <rect x="12.4" y="11" width="4.5" height="1.5" rx="0.5" fill="#000"/>
  <rect x="9.4" y="15.9" width="4.5" height="1.5" rx="0.5" fill="#000"/>
  <rect x="12.4" y="20.9" width="4.5" height="1.5" rx="0.5" fill="#000"/>
  <rect x="25.75" y="0" width="1.4" height="33.4" fill="#0c0c0c"/>
  <rect x="-0.7" y="0" width="1.4" height="33.4" fill="#0c0c0c"/>
</g>
<g transform="translate(769.1,226)">
  <rect x="0" y="0" width="26.45" height="33.4" fill="#fff"/>
  <rect x="0" y="0" width="26.45" height="1" fill="#1c1c1c"/>
  <rect x="0" y="32.4" width="26.45" height="1" fill="#1c1c1c"/>
  <rect x="0" y="1" width="26.45" height="1.4" fill="#909090"/>
  <rect x="0" y="31" width="26.45" height="1.4" fill="#909090"/>
  <path d="M0.7,2.3 L2.8,2.3 L5.1,10.5 L0.7,10.5 Z M0.7,31.1 L2.8,31.1 L5.1,22.9 L0.7,22.9 Z M25.8,2.3 L24.6,2.3 L21.7,10.5 L25.8,10.5 Z M25.8,31.1 L24.6,31.1 L21.7,22.9 L25.8,22.9 Z" fill="#cfcfcf"/>
  <path d="M1.5,2.3 V10.5 M1.5,22.9 V31.1 M24.9,2.3 V10.5 M24.9,22.9 V31.1" stroke="#fff" stroke-width="0.8" fill="none"/>
  <path d="M2.8,2.9 L5.1,10.8 M2.8,30.5 L5.1,22.6 M24.6,2.9 L21.7,10.8 M24.6,30.5 L21.7,22.6" stroke="#333" stroke-width="0.8" fill="none"/>
  <path d="M2.6,2.9 H24.8 M2.6,30.5 H24.8" stroke="#1c1c1c" stroke-width="1.2" fill="none"/>
  <path d="M7.4,2.9 h2 M16.5,2.9 h2 M7.4,30.5 h2 M16.5,30.5 h2" stroke="#000" stroke-width="1.5" fill="none"/>
  <path d="M12.2,0.2 L14.4,0.2 L13.3,1.6 Z M12.2,33.2 L14.4,33.2 L13.3,31.8 Z" fill="#000"/>
  <path d="M0.6,10.6 H5 M0.6,22.8 H5 M21.8,10.6 H25.9 M21.8,22.8 H25.9" stroke="#666" stroke-width="0.6" fill="none"/>
  <path d="M5.1,11.1 L9.7,5.4 L19.4,5.4 L21.7,9.6 L21.7,23.8 L19.4,28 L9.7,28 L5.1,22.3 Z" fill="#ececec" stroke="#101010" stroke-width="1.5" stroke-linejoin="round"/>
  <path d="M19.3,9 L21.1,10.4 L21.1,23 L19.3,24.4 Z" fill="#c2c2c2"/>
  <path d="M11.4,8.5 L17,8.5 Q18.7,8.5 18.7,10.2 L18.7,23.2 Q18.7,24.9 17,24.9 L11.4,24.9 Q8.6,22.6 7.7,19.4 L7.7,14 Q8.6,10.8 11.4,8.5 Z" fill="#fff" stroke="#141414" stroke-width="1.2"/>
  <rect x="12.4" y="11" width="4.5" height="1.5" rx="0.5" fill="#000"/>
  <rect x="9.4" y="15.9" width="4.5" height="1.5" rx="0.5" fill="#000"/>
  <rect x="12.4" y="20.9" width="4.5" height="1.5" rx="0.5" fill="#000"/>
  <rect x="25.75" y="0" width="1.4" height="33.4" fill="#0c0c0c"/>
  <rect x="-0.7" y="0" width="1.4" height="33.4" fill="#0c0c0c"/>
</g>
<g transform="translate(795.55,226)">
  <rect x="0" y="0" width="26.45" height="33.4" fill="#fff"/>
  <rect x="0" y="0" width="26.45" height="1" fill="#1c1c1c"/>
  <rect x="0" y="32.4" width="26.45" height="1" fill="#1c1c1c"/>
  <rect x="0" y="1" width="26.45" height="1.4" fill="#909090"/>
  <rect x="0" y="31" width="26.45" height="1.4" fill="#909090"/>
  <path d="M0.7,2.3 L2.8,2.3 L5.1,10.5 L0.7,10.5 Z M0.7,31.1 L2.8,31.1 L5.1,22.9 L0.7,22.9 Z M25.8,2.3 L24.6,2.3 L21.7,10.5 L25.8,10.5 Z M25.8,31.1 L24.6,31.1 L21.7,22.9 L25.8,22.9 Z" fill="#cfcfcf"/>
  <path d="M1.5,2.3 V10.5 M1.5,22.9 V31.1 M24.9,2.3 V10.5 M24.9,22.9 V31.1" stroke="#fff" stroke-width="0.8" fill="none"/>
  <path d="M2.8,2.9 L5.1,10.8 M2.8,30.5 L5.1,22.6 M24.6,2.9 L21.7,10.8 M24.6,30.5 L21.7,22.6" stroke="#333" stroke-width="0.8" fill="none"/>
  <path d="M2.6,2.9 H24.8 M2.6,30.5 H24.8" stroke="#1c1c1c" stroke-width="1.2" fill="none"/>
  <path d="M7.4,2.9 h2 M16.5,2.9 h2 M7.4,30.5 h2 M16.5,30.5 h2" stroke="#000" stroke-width="1.5" fill="none"/>
  <path d="M12.2,0.2 L14.4,0.2 L13.3,1.6 Z M12.2,33.2 L14.4,33.2 L13.3,31.8 Z" fill="#000"/>
  <path d="M0.6,10.6 H5 M0.6,22.8 H5 M21.8,10.6 H25.9 M21.8,22.8 H25.9" stroke="#666" stroke-width="0.6" fill="none"/>
  <path d="M5.1,11.1 L9.7,5.4 L19.4,5.4 L21.7,9.6 L21.7,23.8 L19.4,28 L9.7,28 L5.1,22.3 Z" fill="#ececec" stroke="#101010" stroke-width="1.5" stroke-linejoin="round"/>
  <path d="M19.3,9 L21.1,10.4 L21.1,23 L19.3,24.4 Z" fill="#c2c2c2"/>
  <path d="M11.4,8.5 L17,8.5 Q18.7,8.5 18.7,10.2 L18.7,23.2 Q18.7,24.9 17,24.9 L11.4,24.9 Q8.6,22.6 7.7,19.4 L7.7,14 Q8.6,10.8 11.4,8.5 Z" fill="#fff" stroke="#141414" stroke-width="1.2"/>
  <rect x="12.4" y="11" width="4.5" height="1.5" rx="0.5" fill="#000"/>
  <rect x="9.4" y="15.9" width="4.5" height="1.5" rx="0.5" fill="#000"/>
  <rect x="12.4" y="20.9" width="4.5" height="1.5" rx="0.5" fill="#000"/>
  <rect x="25.75" y="0" width="1.4" height="33.4" fill="#0c0c0c"/>
  <rect x="-0.7" y="0" width="1.4" height="33.4" fill="#0c0c0c"/>
</g>
<rect x="822.20" y="227.00" width="21.40" height="32.00" fill="#fff" stroke="#555" stroke-width="0.8" rx="0" />
<line x1="829.1999999999999" y1="227" x2="829.1999999999999" y2="259" stroke="#666" stroke-width="0.7" />
<ellipse cx="825.4999999999999" cy="242.9" rx="1.4" ry="1.1" fill="#168a22"/>
<text transform="translate(487.8,243.4) rotate(90)" font-size="8" text-anchor="middle" class="s">B</text>
<text transform="translate(833.2,243.3) rotate(90)" font-size="9" text-anchor="middle" class="s">A</text>
<rect x="846.40" y="226.80" width="90.40" height="32.00" fill="#fff" stroke="#111" stroke-width="1.6" rx="1.6" />
<line x1="843.9" y1="227" x2="843.9" y2="259" stroke="#555" stroke-width="0.8" />
<line x1="939.6" y1="227" x2="939.6" y2="259" stroke="#555" stroke-width="0.8" />
<rect x="851.40" y="229.60" width="26.40" height="26.20" fill="#fff" stroke="#222" stroke-width="0.9" rx="0" />
<circle cx="854.9" cy="234.3" r="1.45" fill="#000" stroke="#222" stroke-width="0"/>
<circle cx="859.7" cy="234.3" r="1.45" fill="#000" stroke="#222" stroke-width="0"/>
<circle cx="864.4" cy="234.3" r="1.45" fill="#000" stroke="#222" stroke-width="0"/>
<circle cx="869.2" cy="234.3" r="1.45" fill="#000" stroke="#222" stroke-width="0"/>
<circle cx="874.2" cy="234.3" r="1.45" fill="#000" stroke="#222" stroke-width="0"/>
<rect x="853.40" y="239.40" width="3.00" height="3.60" fill="#222" stroke="#222" stroke-width="0" rx="0" />
<rect x="854.40" y="240.60" width="0.90" height="1.00" fill="#ccc" stroke="#222" stroke-width="0" rx="0" />
<rect x="858.20" y="239.40" width="3.00" height="3.60" fill="#222" stroke="#222" stroke-width="0" rx="0" />
<rect x="859.20" y="240.60" width="0.90" height="1.00" fill="#ccc" stroke="#222" stroke-width="0" rx="0" />
<rect x="862.90" y="239.40" width="3.00" height="3.60" fill="#222" stroke="#222" stroke-width="0" rx="0" />
<rect x="863.90" y="240.60" width="0.90" height="1.00" fill="#ccc" stroke="#222" stroke-width="0" rx="0" />
<rect x="867.70" y="239.40" width="3.00" height="3.60" fill="#222" stroke="#222" stroke-width="0" rx="0" />
<rect x="868.70" y="240.60" width="0.90" height="1.00" fill="#ccc" stroke="#222" stroke-width="0" rx="0" />
<rect x="872.70" y="239.40" width="3.00" height="3.60" fill="#222" stroke="#222" stroke-width="0" rx="0" />
<rect x="873.70" y="240.60" width="0.90" height="1.00" fill="#ccc" stroke="#222" stroke-width="0" rx="0" />
<rect x="853.40" y="244.60" width="3.00" height="3.60" fill="#222" stroke="#222" stroke-width="0" rx="0" />
<rect x="854.40" y="245.80" width="0.90" height="1.00" fill="#ccc" stroke="#222" stroke-width="0" rx="0" />
<rect x="858.20" y="244.60" width="3.00" height="3.60" fill="#222" stroke="#222" stroke-width="0" rx="0" />
<rect x="859.20" y="245.80" width="0.90" height="1.00" fill="#ccc" stroke="#222" stroke-width="0" rx="0" />
<rect x="853.40" y="249.80" width="3.00" height="3.60" fill="#222" stroke="#222" stroke-width="0" rx="0" />
<rect x="854.40" y="251.00" width="0.90" height="1.00" fill="#ccc" stroke="#222" stroke-width="0" rx="0" />
<rect x="858.20" y="249.80" width="3.00" height="3.60" fill="#222" stroke="#222" stroke-width="0" rx="0" />
<rect x="859.20" y="251.00" width="0.90" height="1.00" fill="#ccc" stroke="#222" stroke-width="0" rx="0" />
<rect x="862.90" y="249.80" width="3.00" height="3.60" fill="#222" stroke="#222" stroke-width="0" rx="0" />
<rect x="863.90" y="251.00" width="0.90" height="1.00" fill="#ccc" stroke="#222" stroke-width="0" rx="0" />
<rect x="867.70" y="249.80" width="3.00" height="3.60" fill="#222" stroke="#222" stroke-width="0" rx="0" />
<rect x="868.70" y="251.00" width="0.90" height="1.00" fill="#ccc" stroke="#222" stroke-width="0" rx="0" />
<rect x="872.70" y="249.80" width="3.00" height="3.60" fill="#222" stroke="#222" stroke-width="0" rx="0" />
<rect x="873.70" y="251.00" width="0.90" height="1.00" fill="#ccc" stroke="#222" stroke-width="0" rx="0" />
<circle cx="890.5" cy="234" r="3.6" fill="#fff" stroke="#0a0a0a" stroke-width="1.8"/>
<circle cx="890.5" cy="234" r="1.8" fill="#ccc" stroke="#333" stroke-width="0.8"/>
<circle cx="890.5" cy="242.8" r="3.6" fill="#fff" stroke="#0a0a0a" stroke-width="1.8"/>
<circle cx="890.5" cy="242.8" r="1.8" fill="#ccc" stroke="#333" stroke-width="0.8"/>
<circle cx="890.5" cy="251.6" r="3.6" fill="#fff" stroke="#0a0a0a" stroke-width="1.8"/>
<circle cx="890.5" cy="251.6" r="1.8" fill="#ccc" stroke="#333" stroke-width="0.8"/>
<path d="M882.2,234 L884.6,232.6 L884.6,235.4 Z" fill="#111" stroke="#222" stroke-width="0" />
<path d="M884.6,242.8 L882.2,241.4 L882.2,244.2 Z" fill="#111" stroke="#222" stroke-width="0" />
<rect x="882.40" y="249.20" width="1.80" height="4.80" fill="#222" stroke="#222" stroke-width="0" rx="0" />
<line x1="899.9" y1="227" x2="899.9" y2="259" stroke="#333" stroke-width="0.8" />
<rect x="900.80" y="229.00" width="27.80" height="27.60" fill="#fff" stroke="#222" stroke-width="0.9" rx="0" />
<rect x="907.40" y="232.10" width="16.20" height="21.40" fill="#fff" stroke="#222" stroke-width="0.9" rx="0" />
<path d="M846.4,238.6 Q849.6,240 849.4,243 Q849.6,246 846.4,247.4" fill="none" stroke="#222" stroke-width="0.8" />
<path d="M936.8,238.6 Q933.6,240 933.8,243 Q933.6,246 936.8,247.4" fill="none" stroke="#222" stroke-width="0.8" />
<circle cx="847.6" cy="243" r="0.8" fill="none" stroke="#222" stroke-width="0.5"/>
<circle cx="935.6" cy="243" r="0.8" fill="none" stroke="#222" stroke-width="0.5"/>
<rect x="949.30" y="227.00" width="18.20" height="32.00" fill="#fff" stroke="#444" stroke-width="0.8" rx="0" />
<text transform="translate(955.8,236.5) rotate(90)" font-size="7.6" text-anchor="middle" class="s">A</text>
<text transform="translate(956.0,250) rotate(90)" font-size="7.4" text-anchor="middle" class="s">B</text>
<rect x="968.60" y="228.40" width="42.60" height="28.60" fill="#fff" stroke="#444" stroke-width="0.9" rx="0" />
<rect x="972.50" y="229.30" width="33.60" height="26.70" fill="#fff" stroke="#222" stroke-width="0.9" rx="0" />
<line x1="972.5" y1="242.5" x2="1006.1" y2="242.5" stroke="#222" stroke-width="0.9" />
<line x1="988.2" y1="229.3" x2="988.2" y2="256" stroke="#999" stroke-width="0.5" />
<rect x="980.20" y="230.40" width="7.50" height="11.10" fill="#0000ff" stroke="#222" stroke-width="0" rx="0" />
<rect x="973.10" y="230.40" width="9.00" height="11.10" fill="#5555f6" stroke="#222" stroke-width="0" rx="2.8" />
<rect x="975.40" y="230.70" width="3.40" height="10.50" fill="#6e6ef4" stroke="#222" stroke-width="0" rx="1.2" />
<rect x="978.60" y="230.40" width="2.20" height="11.10" fill="#3a3afa" stroke="#222" stroke-width="0" rx="0" />
<rect x="984.60" y="229.70" width="3.10" height="1.50" fill="#999" stroke="#222" stroke-width="0" rx="0" />
<line x1="993.2" y1="234.3" x2="1003" y2="234.3" stroke="#000" stroke-width="1.3" />
<line x1="995.2" y1="234.3" x2="995.2" y2="239.4" stroke="#000" stroke-width="1.0" />
<path d="M993.5,236.4 L996.9000000000001,236.4 L995.2,238.8 Z" fill="#000" stroke="#222" stroke-width="0" />
<line x1="1001.2" y1="234.3" x2="1001.2" y2="239.4" stroke="#000" stroke-width="1.0" />
<path d="M999.5,236.4 L1002.9000000000001,236.4 L1001.2,238.8 Z" fill="#000" stroke="#222" stroke-width="0" />
<rect x="980.20" y="243.60" width="7.50" height="11.10" fill="#0000ff" stroke="#222" stroke-width="0" rx="0" />
<rect x="973.10" y="243.60" width="9.00" height="11.10" fill="#5555f6" stroke="#222" stroke-width="0" rx="2.8" />
<rect x="975.40" y="243.90" width="3.40" height="10.50" fill="#6e6ef4" stroke="#222" stroke-width="0" rx="1.2" />
<rect x="978.60" y="243.60" width="2.20" height="11.10" fill="#3a3afa" stroke="#222" stroke-width="0" rx="0" />
<rect x="984.60" y="242.90" width="3.10" height="1.50" fill="#999" stroke="#222" stroke-width="0" rx="0" />
<line x1="993.2" y1="247.5" x2="1003" y2="247.5" stroke="#000" stroke-width="1.3" />
<line x1="995.2" y1="247.5" x2="995.2" y2="252.6" stroke="#000" stroke-width="1.0" />
<path d="M993.5,249.6 L996.9000000000001,249.6 L995.2,252.0 Z" fill="#000" stroke="#222" stroke-width="0" />
<line x1="1001.2" y1="247.5" x2="1001.2" y2="252.6" stroke="#000" stroke-width="1.0" />
<path d="M999.5,249.6 L1002.9000000000001,249.6 L1001.2,252.0 Z" fill="#000" stroke="#222" stroke-width="0" />
<line x1="1010.4" y1="227" x2="1010.4" y2="259" stroke="#666" stroke-width="0.7" />
<line x1="1011.8" y1="227" x2="1011.8" y2="259" stroke="#555" stroke-width="0.8" />
<rect x="1023.20" y="227.00" width="2.20" height="32.00" fill="#aaa" stroke="#666" stroke-width="0.5" rx="0" />
<text transform="translate(1038.5,242.3) rotate(-90)" font-size="5" text-anchor="middle" class="s" style="stroke:#111;stroke-width:0.35px;fill:#000" textLength="27.5" lengthAdjust="spacingAndGlyphs">25A4N20A05</text>
<line x1="1081" y1="231" x2="1094.2" y2="231" stroke="#2f927c" stroke-width="0.9" />
<line x1="1081" y1="254.8" x2="1094.2" y2="254.8" stroke="#2f927c" stroke-width="0.9" />
<line x1="1093.4" y1="223.4" x2="1093.4" y2="231.5" stroke="#2f927c" stroke-width="0.9" />
<line x1="1093.4" y1="254.3" x2="1093.4" y2="262.3" stroke="#2f927c" stroke-width="0.9" />
<line x1="1085" y1="223.4" x2="1108.2" y2="223.4" stroke="#2f927c" stroke-width="0.9" />
<line x1="1085" y1="262.3" x2="1108.2" y2="262.3" stroke="#2f927c" stroke-width="0.9" />
<line x1="1107.5" y1="223.4" x2="1107.5" y2="227.20000000000002" stroke="#2f927c" stroke-width="0.9" />
<line x1="1107.5" y1="258.5" x2="1107.5" y2="262.3" stroke="#2f927c" stroke-width="0.9" />
<text transform="translate(1097.4,242.85000000000002) rotate(-90) scale(0.95,1)" font-size="12.6" text-anchor="middle" class="d">31. 8</text>
<text transform="translate(1112.8,242.85000000000002) rotate(-90) scale(0.95,1)" font-size="16.5" text-anchor="middle" class="d">52. 0</text>
<text transform="translate(1096.9,137.2) rotate(-90) scale(0.95,1)" font-size="16.5" text-anchor="middle" class="d">44. 4</text>
<path d="M90.2,233.4 Q85.6,234 85.6,243 Q85.6,252 90.2,252.6 Z" fill="#fff" stroke="#222" stroke-width="0.9" />
<rect x="90.20" y="233.30" width="11.10" height="19.30" fill="#222" stroke="#222" stroke-width="0.8" rx="0" />
<line x1="91.6" y1="233.6" x2="91.6" y2="252.3" stroke="#888" stroke-width="0.6" />
<line x1="93.69999999999999" y1="233.6" x2="93.69999999999999" y2="252.3" stroke="#888" stroke-width="0.6" />
<line x1="95.8" y1="233.6" x2="95.8" y2="252.3" stroke="#888" stroke-width="0.6" />
<line x1="97.89999999999999" y1="233.6" x2="97.89999999999999" y2="252.3" stroke="#888" stroke-width="0.6" />
<line x1="100.0" y1="233.6" x2="100.0" y2="252.3" stroke="#888" stroke-width="0.6" />
<rect x="101.00" y="235.60" width="2.60" height="14.40" fill="#bbb" stroke="#222" stroke-width="0.7" rx="0" />
<rect x="103.60" y="232.80" width="3.90" height="19.60" fill="#eee" stroke="#222" stroke-width="0.8" rx="1" />
<line x1="103.6" y1="241.3" x2="107.5" y2="241.3" stroke="#555" stroke-width="0.7" />
<line x1="103.6" y1="244.8" x2="107.5" y2="244.8" stroke="#555" stroke-width="0.7" />
<path d="M86,242.8 L61,242.8" fill="none" stroke="#fff" stroke-width="7.2"/>
<path d="M86,242.8 L60,242.8 C45,242.8 35.9,256 35.9,270 C35.9,284 44,297.4 58.6,299.9 L129.9,305.8 C160,309 190,314.2 209.2,314.2 A7.8,7.8 0 0 0 217,306.4" fill="none" stroke="#2c2c2c" stroke-width="8.05" stroke-linecap="butt" stroke-linejoin="round"/>
<path d="M86,242.8 L60,242.8 C45,242.8 35.9,256 35.9,270 C35.9,284 44,297.4 58.6,299.9 L129.9,305.8 C160,309 190,314.2 209.2,314.2 A7.8,7.8 0 0 0 217,306.4 L217,305.6" fill="none" stroke="#fff" stroke-width="6.3500000000000005" stroke-linecap="butt" stroke-linejoin="round"/>
<path d="M217,306.4 A7.8,7.8 0 0 0 209.2,298.6 C190,298.6 160,303 129.9,306.40000000000003 L57,312.6 A8.3,8.3 0 0 0 49.4,321" fill="none" stroke="#2c2c2c" stroke-width="8.05" stroke-linecap="butt" stroke-linejoin="round"/>
<path d="M217,307.2 L217,306.4 A7.8,7.8 0 0 0 209.2,298.6 C190,298.6 160,303 129.9,306.40000000000003 L57,312.6 A8.3,8.3 0 0 0 49.4,321 L49.4,321.8" fill="none" stroke="#fff" stroke-width="6.3500000000000005" stroke-linecap="butt" stroke-linejoin="round"/>
<path d="M49.4,321 A8.3,8.3 0 0 0 60.6,328.9 L129.9,306.6 L180,291.4 Q190,288.8 199,288.8 L242,288.8" fill="none" stroke="#2c2c2c" stroke-width="8.05" stroke-linecap="butt" stroke-linejoin="round"/>
<path d="M49.4,320.2 L49.4,321 A8.3,8.3 0 0 0 60.6,328.9 L129.9,306.6 L180,291.4 Q190,288.8 199,288.8 L242,288.8" fill="none" stroke="#fff" stroke-width="6.3500000000000005" stroke-linecap="butt" stroke-linejoin="round"/>
<rect x="128.30" y="302.00" width="3.60" height="9.00" fill="#fff" stroke="#222" stroke-width="0.8" rx="0" />
<path d="M127.1,302.4 L127.1,298.6 Q127.1,297.4 128.4,297.2 Q130.4,294.8 132.4,297.2 Q133.7,297.4 133.7,298.6 L133.7,302.4 Z" fill="#fff" stroke="#222" stroke-width="0.8" />
<path d="M250.7,280.2 L245.2,280.2 Q241.6,280.8 241.6,289.2 Q241.6,297.4 245.2,298 L250.7,298 Z" fill="#fff" stroke="#222" stroke-width="0.9" />
<line x1="244.3" y1="280.4" x2="244.3" y2="297.8" stroke="#555" stroke-width="0.7" />
<rect x="250.70" y="280.60" width="2.40" height="17.00" fill="#fff" stroke="#222" stroke-width="0.7" rx="0" />
<line x1="250.7" y1="287" x2="253" y2="287" stroke="#222" stroke-width="0.6" />
<line x1="250.7" y1="290.2" x2="253" y2="290.2" stroke="#222" stroke-width="0.6" />
<path d="M257,278 Q258.6,280.3 261.4,280.4 L265.4,279.9 L265.4,298.5 L261.4,298.2 Q258.6,298.3 257,300.4 Z" fill="#fff" stroke="#222" stroke-width="0.8" />
<rect x="252.90" y="277.40" width="4.20" height="23.30" fill="#7a7a7a" stroke="#222" stroke-width="0.8" rx="1.7" />
<line x1="254.2" y1="278.2" x2="254.2" y2="300" stroke="#bbb" stroke-width="0.7" />
<path d="M265.5,279.9 Q279,276.2 292.3,275.3 L292.3,302.6 Q279,301.8 265.5,298.1 Z" fill="#fff" stroke="#222" stroke-width="0.9" />
<rect x="292.30" y="273.40" width="2.50" height="32.70" fill="#ddd" stroke="#222" stroke-width="0.8" rx="0" />
<rect x="294.80" y="275.30" width="21.10" height="27.40" fill="#fff" stroke="#222" stroke-width="0.9" rx="0" />
<line x1="297.9" y1="275.3" x2="297.9" y2="302.7" stroke="#222" stroke-width="0.7" />
<line x1="309.4" y1="275.3" x2="309.4" y2="302.7" stroke="#222" stroke-width="0.7" />
<rect x="309.40" y="302.70" width="6.50" height="2.80" fill="#ccc" stroke="#222" stroke-width="0.7" rx="0" />
<path d="M329.4,276 L352.3,276 L352.3,309.6 L329.6,309.6 L328.4,303 L328.4,279 Z" fill="#fff" stroke="#222" stroke-width="0.9" />
<line x1="332.7" y1="276" x2="332.7" y2="309.6" stroke="#222" stroke-width="0.8" />
<line x1="329" y1="306.4" x2="352.3" y2="306.4" stroke="#222" stroke-width="0.7" />
<path d="M329.4,277.6 L333.9,266 L351.8,275.2" fill="none" stroke="#111" stroke-width="1.2" stroke-linejoin="round"/>
<path d="M331.2,276 L334.3,268.2 L349.4,276" fill="none" stroke="#222" stroke-width="1.0" stroke-linejoin="round"/>
<path d="M334,266.2 L334.4,268.4 M338,268.2 L337.2,269.8 M342,270.2 L341.2,271.9 M346,272.3 L345.2,274 M350,274.4 L349.2,275.8 M331.6,271.6 L332.8,272" fill="none" stroke="#333" stroke-width="0.7" />
<circle cx="351.4" cy="275.4" r="0.9" fill="#111" stroke="#222" stroke-width="0"/>
<circle cx="334" cy="266.3" r="0.8" fill="#111" stroke="#222" stroke-width="0"/>
<path d="M352.3,277.3 Q368,277.1 379.3,281.6 L379.3,300.2 Q368,304.5 352.3,304.2 Z" fill="#fff" stroke="#222" stroke-width="0.9" />
<path d="M379.3,281.5 L384,281.6 Q387,281.4 388.7,279.4 L388.7,301.6 Q387,299.6 384,299.4 L379.3,300.4 Z" fill="#fff" stroke="#222" stroke-width="0.8" />
<rect x="392.40" y="280.40" width="2.70" height="19.60" fill="#fff" stroke="#222" stroke-width="0.7" rx="0" />
<line x1="392.4" y1="284" x2="395.1" y2="284" stroke="#222" stroke-width="0.6" />
<line x1="392.4" y1="286.4" x2="395.1" y2="286.4" stroke="#222" stroke-width="0.6" />
<line x1="392.4" y1="294" x2="395.1" y2="294" stroke="#222" stroke-width="0.6" />
<line x1="392.4" y1="296.4" x2="395.1" y2="296.4" stroke="#222" stroke-width="0.6" />
<rect x="388.70" y="278.50" width="3.80" height="24.00" fill="#7a7a7a" stroke="#222" stroke-width="0.8" rx="1.5" />
<line x1="389.9" y1="279.2" x2="389.9" y2="301.8" stroke="#bbb" stroke-width="0.7" />
<path d="M395.1,281.1 L400.6,281.1 Q403.9,281.8 403.9,290.2 Q403.9,298.6 400.6,299.3 L395.1,299.3 Z" fill="#fff" stroke="#222" stroke-width="0.9" />
<path d="M107.6,374.3 L74.4,374.3 Q72.4,374.3 72.4,376.3 L72.4,410.4 Q72.4,412.4 74.4,412.4 L107.6,412.4" fill="#fff" stroke="#222" stroke-width="0.9" />
<rect x="75.50" y="378.85" width="22.00" height="5.50" fill="#fff" stroke="#222" stroke-width="0.8" rx="2.75" />
<rect x="75.50" y="390.75" width="22.00" height="5.50" fill="#fff" stroke="#222" stroke-width="0.8" rx="2.75" />
<rect x="75.50" y="402.25" width="22.00" height="5.50" fill="#fff" stroke="#222" stroke-width="0.8" rx="2.75" />
<path d="M1048,374.3 L1082.6,374.3 Q1084.6,374.3 1084.6,376.3 L1084.6,410.4 Q1084.6,412.4 1082.6,412.4 L1048,412.4" fill="#fff" stroke="#222" stroke-width="0.9" />
<rect x="1059.40" y="379.00" width="22.20" height="5.80" fill="#fff" stroke="#222" stroke-width="0.8" rx="2.9" />
<rect x="1059.40" y="390.70" width="22.20" height="5.80" fill="#fff" stroke="#222" stroke-width="0.8" rx="2.9" />
<rect x="1059.40" y="402.30" width="22.20" height="5.80" fill="#fff" stroke="#222" stroke-width="0.8" rx="2.9" />
<rect x="107.60" y="374.70" width="940.40" height="37.30" fill="#fff" stroke="#222" stroke-width="1.5" rx="0" />
<line x1="108.8" y1="374.3" x2="108.8" y2="389.6" stroke="#777" stroke-width="1.3" />
<line x1="1047.6" y1="374.3" x2="1047.6" y2="393" stroke="#777" stroke-width="1.3" />
<circle cx="235.2" cy="393.4" r="9.2" fill="#fff" stroke="#222" stroke-width="0.9"/>
<circle cx="235.2" cy="393.4" r="4.6" fill="#fff" stroke="#222" stroke-width="0.8"/>
<circle cx="235.2" cy="393.4" r="3" fill="#bbb" stroke="#222" stroke-width="0.8"/>
<circle cx="235.2" cy="393.4" r="1.2" fill="#222" stroke="#222" stroke-width="0"/>
<circle cx="921.2" cy="393.4" r="9.2" fill="#fff" stroke="#222" stroke-width="0.9"/>
<circle cx="921.2" cy="393.4" r="4.6" fill="#fff" stroke="#222" stroke-width="0.8"/>
<circle cx="921.2" cy="393.4" r="3" fill="#bbb" stroke="#222" stroke-width="0.8"/>
<circle cx="921.2" cy="393.4" r="1.2" fill="#222" stroke="#222" stroke-width="0"/>
<line x1="108.9" y1="389.6" x2="108.9" y2="437.1" stroke="#2f927c" stroke-width="0.9" />
<line x1="1047.7" y1="393" x2="1047.7" y2="437.1" stroke="#2f927c" stroke-width="0.9" />
<line x1="235.2" y1="393.4" x2="235.2" y2="437.1" stroke="#2f927c" stroke-width="0.9" />
<line x1="921.2" y1="393.4" x2="921.2" y2="437.1" stroke="#2f927c" stroke-width="0.9" />
<line x1="108.9" y1="437.1" x2="1047.7" y2="437.1" stroke="#2f927c" stroke-width="0.9" />
<path d="M108.9,437.1 L112.10000000000001,436.20000000000005 L112.10000000000001,438.0 Z" fill="#2f927c" stroke="#2f927c" stroke-width="0.3" />
<path d="M235.2,437.1 L232.0,436.20000000000005 L232.0,438.0 Z" fill="#2f927c" stroke="#2f927c" stroke-width="0.3" />
<path d="M235.2,437.1 L238.39999999999998,436.20000000000005 L238.39999999999998,438.0 Z" fill="#2f927c" stroke="#2f927c" stroke-width="0.3" />
<path d="M921.2,437.1 L918.0,436.20000000000005 L918.0,438.0 Z" fill="#2f927c" stroke="#2f927c" stroke-width="0.3" />
<path d="M921.2,437.1 L924.4000000000001,436.20000000000005 L924.4000000000001,438.0 Z" fill="#2f927c" stroke="#2f927c" stroke-width="0.3" />
<path d="M1047.7,437.1 L1044.5,436.20000000000005 L1044.5,438.0 Z" fill="#2f927c" stroke="#2f927c" stroke-width="0.3" />
<rect x="133.10" y="430.17" width="38.60" height="13.20" fill="#fff" stroke="#222" stroke-width="0" rx="0" />
<text transform="translate(152.4,442.71) scale(0.95,1)" font-size="16.5" text-anchor="middle" class="d">172. 0</text>
<rect x="559.30" y="430.17" width="38.60" height="13.20" fill="#fff" stroke="#222" stroke-width="0" rx="0" />
<text transform="translate(578.6,442.71) scale(0.95,1)" font-size="16.5" text-anchor="middle" class="d">933. 0</text>
<rect x="965.70" y="430.17" width="38.60" height="13.20" fill="#fff" stroke="#222" stroke-width="0" rx="0" />
<text transform="translate(985,442.71) scale(0.95,1)" font-size="16.5" text-anchor="middle" class="d">172. 0</text>
<line x1="1081" y1="381.7" x2="1094.2" y2="381.7" stroke="#2f927c" stroke-width="0.9" />
<line x1="1081" y1="405.3" x2="1094.2" y2="405.3" stroke="#2f927c" stroke-width="0.9" />
<line x1="1093.4" y1="374.3" x2="1093.4" y2="382.2" stroke="#2f927c" stroke-width="0.9" />
<line x1="1093.4" y1="404.8" x2="1093.4" y2="412.4" stroke="#2f927c" stroke-width="0.9" />
<line x1="1085" y1="374.3" x2="1108.2" y2="374.3" stroke="#2f927c" stroke-width="0.9" />
<line x1="1085" y1="412.4" x2="1108.2" y2="412.4" stroke="#2f927c" stroke-width="0.9" />
<line x1="1107.5" y1="374.3" x2="1107.5" y2="378.1" stroke="#2f927c" stroke-width="0.9" />
<line x1="1107.5" y1="408.59999999999997" x2="1107.5" y2="412.4" stroke="#2f927c" stroke-width="0.9" />
<text transform="translate(1097.4,393.35) rotate(-90) scale(0.95,1)" font-size="12.6" text-anchor="middle" class="d">31. 8</text>
<text transform="translate(1112.8,393.35) rotate(-90) scale(0.95,1)" font-size="16.5" text-anchor="middle" class="d">52. 0</text>
</svg>
<div class="title">Other  functions,performance description</div>
</body></html>
